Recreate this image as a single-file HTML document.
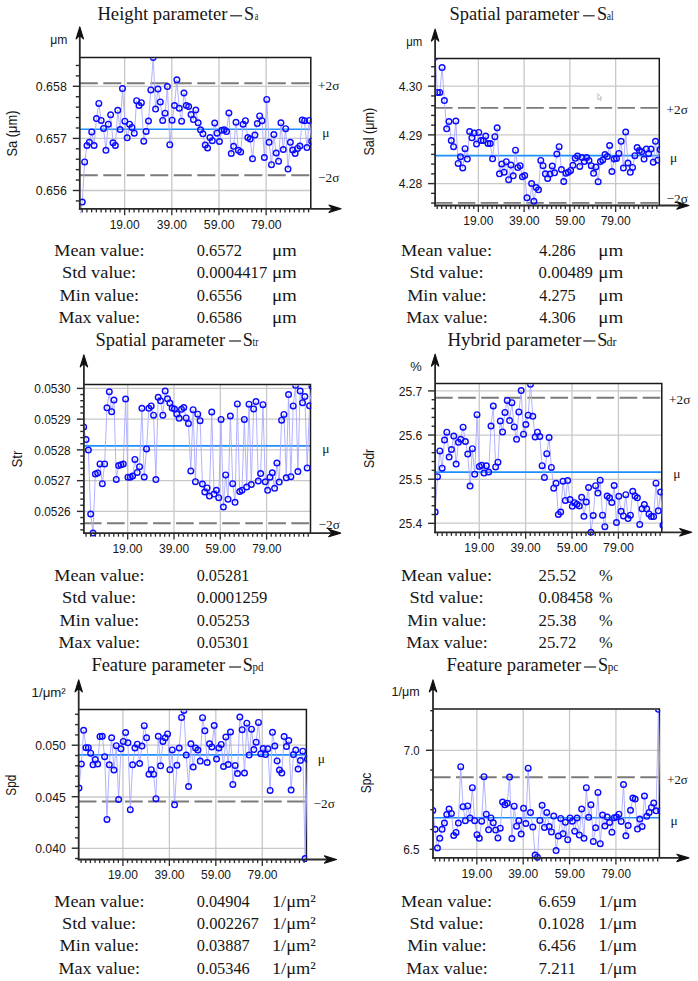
<!DOCTYPE html>
<html><head><meta charset="utf-8"><style>
html,body{margin:0;padding:0;background:#fff;width:698px;height:981px;overflow:hidden}
svg{display:block}
text{fill:#161616}
.sa{font-family:"Liberation Sans",sans-serif}
.se{font-family:"Liberation Serif",serif}
</style></head><body>
<svg width="698" height="981" viewBox="0 0 698 981">
<rect width="698" height="981" fill="#fff"/>
<clipPath id="c0"><rect x="79.8" y="58.3" width="231.8" height="155.3"/></clipPath>
<line x1="124.65" y1="58" x2="124.65" y2="208.8" stroke="#c8c8c8" stroke-width="1.3"/>
<line x1="171.81" y1="58" x2="171.81" y2="208.8" stroke="#c8c8c8" stroke-width="1.3"/>
<line x1="218.97" y1="58" x2="218.97" y2="208.8" stroke="#c8c8c8" stroke-width="1.3"/>
<line x1="266.13" y1="58" x2="266.13" y2="208.8" stroke="#c8c8c8" stroke-width="1.3"/>
<line x1="79.8" y1="86.3" x2="310.8" y2="86.3" stroke="#c8c8c8" stroke-width="1.3"/>
<line x1="79.8" y1="138.4" x2="310.8" y2="138.4" stroke="#c8c8c8" stroke-width="1.3"/>
<line x1="79.8" y1="190.5" x2="310.8" y2="190.5" stroke="#c8c8c8" stroke-width="1.3"/>
<line x1="79.8" y1="83.2" x2="309.6" y2="83.2" stroke="#7b7b7b" stroke-width="1.9" stroke-dasharray="17.98 5.52"/>
<line x1="79.8" y1="175.3" x2="309.6" y2="175.3" stroke="#7b7b7b" stroke-width="1.9" stroke-dasharray="17.98 5.52"/>
<line x1="79.8" y1="129.3" x2="310.8" y2="129.3" stroke="#1e8fff" stroke-width="1.6"/>
<path d="M79.8 57.5 H310.8 V208.8" fill="none" stroke="#1a1a1a" stroke-width="1.5"/>
<g clip-path="url(#c0)">
<path d="M79.9 218 L82.27 202.1 L84.63 161.9 L87 145.5 L89.36 142.3 L91.73 131.9 L94.09 145.5 L96.46 118.6 L98.82 103.4 L101.19 120.4 L103.55 128.4 L105.92 150.3 L108.28 124.2 L110.65 114.8 L113.01 142.8 L115.38 145.5 L117.74 110.3 L120.11 129.5 L122.47 88.6 L124.84 121.2 L127.2 137.8 L129.56 124.2 L131.93 127.4 L134.3 133.2 L136.66 100.7 L139.03 105.5 L141.39 102.7 L143.75 141.2 L146.12 131.4 L148.49 121 L150.85 89.9 L153.22 57.4 L155.58 109.1 L157.94 89.1 L160.31 101.9 L162.68 120.4 L165.04 113.2 L167.41 86.6 L169.77 144.7 L172.14 120.2 L174.5 105.5 L176.87 79.8 L179.23 108.3 L181.6 121.2 L183.96 93 L186.33 105.5 L188.69 106.5 L191.06 114.6 L193.42 119.6 L195.79 110 L198.15 122.8 L200.52 129.8 L202.88 133.8 L205.25 145 L207.61 147.9 L209.98 137.5 L212.34 140.7 L214.71 123.1 L217.07 133.2 L219.44 141.5 L221.8 130.3 L224.17 129.8 L226.53 131.6 L228.9 113 L231.26 153.5 L233.63 146.3 L235.99 122.3 L238.36 150.3 L240.72 151.9 L243.09 124.2 L245.45 120.7 L247.82 137.5 L250.18 139.1 L252.55 158.8 L254.91 135.1 L257.28 123.6 L259.64 115.9 L262 120.7 L264.37 157.5 L266.74 99.4 L269.1 142.3 L271.47 164.7 L273.83 134.6 L276.2 153 L278.56 161.2 L280.93 122.8 L283.29 149.5 L285.66 128.7 L288.02 169.1 L290.38 142.3 L292.75 150 L295.12 153.5 L297.48 148.4 L299.85 146 L302.21 119.9 L304.58 120.7 L306.94 147.6 L309.31 120.4 L311.67 141.2" fill="none" stroke="#a9a9ff" stroke-width="0.9" stroke-linejoin="round"/>
<circle cx="79.9" cy="218" r="2.8" fill="none" stroke="#0b0bff" stroke-width="1.4"/>
<circle cx="82.27" cy="202.1" r="2.8" fill="none" stroke="#0b0bff" stroke-width="1.4"/>
<circle cx="84.63" cy="161.9" r="2.8" fill="none" stroke="#0b0bff" stroke-width="1.4"/>
<circle cx="87" cy="145.5" r="2.8" fill="none" stroke="#0b0bff" stroke-width="1.4"/>
<circle cx="89.36" cy="142.3" r="2.8" fill="none" stroke="#0b0bff" stroke-width="1.4"/>
<circle cx="91.73" cy="131.9" r="2.8" fill="none" stroke="#0b0bff" stroke-width="1.4"/>
<circle cx="94.09" cy="145.5" r="2.8" fill="none" stroke="#0b0bff" stroke-width="1.4"/>
<circle cx="96.46" cy="118.6" r="2.8" fill="none" stroke="#0b0bff" stroke-width="1.4"/>
<circle cx="98.82" cy="103.4" r="2.8" fill="none" stroke="#0b0bff" stroke-width="1.4"/>
<circle cx="101.19" cy="120.4" r="2.8" fill="none" stroke="#0b0bff" stroke-width="1.4"/>
<circle cx="103.55" cy="128.4" r="2.8" fill="none" stroke="#0b0bff" stroke-width="1.4"/>
<circle cx="105.92" cy="150.3" r="2.8" fill="none" stroke="#0b0bff" stroke-width="1.4"/>
<circle cx="108.28" cy="124.2" r="2.8" fill="none" stroke="#0b0bff" stroke-width="1.4"/>
<circle cx="110.65" cy="114.8" r="2.8" fill="none" stroke="#0b0bff" stroke-width="1.4"/>
<circle cx="113.01" cy="142.8" r="2.8" fill="none" stroke="#0b0bff" stroke-width="1.4"/>
<circle cx="115.38" cy="145.5" r="2.8" fill="none" stroke="#0b0bff" stroke-width="1.4"/>
<circle cx="117.74" cy="110.3" r="2.8" fill="none" stroke="#0b0bff" stroke-width="1.4"/>
<circle cx="120.11" cy="129.5" r="2.8" fill="none" stroke="#0b0bff" stroke-width="1.4"/>
<circle cx="122.47" cy="88.6" r="2.8" fill="none" stroke="#0b0bff" stroke-width="1.4"/>
<circle cx="124.84" cy="121.2" r="2.8" fill="none" stroke="#0b0bff" stroke-width="1.4"/>
<circle cx="127.2" cy="137.8" r="2.8" fill="none" stroke="#0b0bff" stroke-width="1.4"/>
<circle cx="129.56" cy="124.2" r="2.8" fill="none" stroke="#0b0bff" stroke-width="1.4"/>
<circle cx="131.93" cy="127.4" r="2.8" fill="none" stroke="#0b0bff" stroke-width="1.4"/>
<circle cx="134.3" cy="133.2" r="2.8" fill="none" stroke="#0b0bff" stroke-width="1.4"/>
<circle cx="136.66" cy="100.7" r="2.8" fill="none" stroke="#0b0bff" stroke-width="1.4"/>
<circle cx="139.03" cy="105.5" r="2.8" fill="none" stroke="#0b0bff" stroke-width="1.4"/>
<circle cx="141.39" cy="102.7" r="2.8" fill="none" stroke="#0b0bff" stroke-width="1.4"/>
<circle cx="143.75" cy="141.2" r="2.8" fill="none" stroke="#0b0bff" stroke-width="1.4"/>
<circle cx="146.12" cy="131.4" r="2.8" fill="none" stroke="#0b0bff" stroke-width="1.4"/>
<circle cx="148.49" cy="121" r="2.8" fill="none" stroke="#0b0bff" stroke-width="1.4"/>
<circle cx="150.85" cy="89.9" r="2.8" fill="none" stroke="#0b0bff" stroke-width="1.4"/>
<circle cx="153.22" cy="57.4" r="2.8" fill="none" stroke="#0b0bff" stroke-width="1.4"/>
<circle cx="155.58" cy="109.1" r="2.8" fill="none" stroke="#0b0bff" stroke-width="1.4"/>
<circle cx="157.94" cy="89.1" r="2.8" fill="none" stroke="#0b0bff" stroke-width="1.4"/>
<circle cx="160.31" cy="101.9" r="2.8" fill="none" stroke="#0b0bff" stroke-width="1.4"/>
<circle cx="162.68" cy="120.4" r="2.8" fill="none" stroke="#0b0bff" stroke-width="1.4"/>
<circle cx="165.04" cy="113.2" r="2.8" fill="none" stroke="#0b0bff" stroke-width="1.4"/>
<circle cx="167.41" cy="86.6" r="2.8" fill="none" stroke="#0b0bff" stroke-width="1.4"/>
<circle cx="169.77" cy="144.7" r="2.8" fill="none" stroke="#0b0bff" stroke-width="1.4"/>
<circle cx="172.14" cy="120.2" r="2.8" fill="none" stroke="#0b0bff" stroke-width="1.4"/>
<circle cx="174.5" cy="105.5" r="2.8" fill="none" stroke="#0b0bff" stroke-width="1.4"/>
<circle cx="176.87" cy="79.8" r="2.8" fill="none" stroke="#0b0bff" stroke-width="1.4"/>
<circle cx="179.23" cy="108.3" r="2.8" fill="none" stroke="#0b0bff" stroke-width="1.4"/>
<circle cx="181.6" cy="121.2" r="2.8" fill="none" stroke="#0b0bff" stroke-width="1.4"/>
<circle cx="183.96" cy="93" r="2.8" fill="none" stroke="#0b0bff" stroke-width="1.4"/>
<circle cx="186.33" cy="105.5" r="2.8" fill="none" stroke="#0b0bff" stroke-width="1.4"/>
<circle cx="188.69" cy="106.5" r="2.8" fill="none" stroke="#0b0bff" stroke-width="1.4"/>
<circle cx="191.06" cy="114.6" r="2.8" fill="none" stroke="#0b0bff" stroke-width="1.4"/>
<circle cx="193.42" cy="119.6" r="2.8" fill="none" stroke="#0b0bff" stroke-width="1.4"/>
<circle cx="195.79" cy="110" r="2.8" fill="none" stroke="#0b0bff" stroke-width="1.4"/>
<circle cx="198.15" cy="122.8" r="2.8" fill="none" stroke="#0b0bff" stroke-width="1.4"/>
<circle cx="200.52" cy="129.8" r="2.8" fill="none" stroke="#0b0bff" stroke-width="1.4"/>
<circle cx="202.88" cy="133.8" r="2.8" fill="none" stroke="#0b0bff" stroke-width="1.4"/>
<circle cx="205.25" cy="145" r="2.8" fill="none" stroke="#0b0bff" stroke-width="1.4"/>
<circle cx="207.61" cy="147.9" r="2.8" fill="none" stroke="#0b0bff" stroke-width="1.4"/>
<circle cx="209.98" cy="137.5" r="2.8" fill="none" stroke="#0b0bff" stroke-width="1.4"/>
<circle cx="212.34" cy="140.7" r="2.8" fill="none" stroke="#0b0bff" stroke-width="1.4"/>
<circle cx="214.71" cy="123.1" r="2.8" fill="none" stroke="#0b0bff" stroke-width="1.4"/>
<circle cx="217.07" cy="133.2" r="2.8" fill="none" stroke="#0b0bff" stroke-width="1.4"/>
<circle cx="219.44" cy="141.5" r="2.8" fill="none" stroke="#0b0bff" stroke-width="1.4"/>
<circle cx="221.8" cy="130.3" r="2.8" fill="none" stroke="#0b0bff" stroke-width="1.4"/>
<circle cx="224.17" cy="129.8" r="2.8" fill="none" stroke="#0b0bff" stroke-width="1.4"/>
<circle cx="226.53" cy="131.6" r="2.8" fill="none" stroke="#0b0bff" stroke-width="1.4"/>
<circle cx="228.9" cy="113" r="2.8" fill="none" stroke="#0b0bff" stroke-width="1.4"/>
<circle cx="231.26" cy="153.5" r="2.8" fill="none" stroke="#0b0bff" stroke-width="1.4"/>
<circle cx="233.63" cy="146.3" r="2.8" fill="none" stroke="#0b0bff" stroke-width="1.4"/>
<circle cx="235.99" cy="122.3" r="2.8" fill="none" stroke="#0b0bff" stroke-width="1.4"/>
<circle cx="238.36" cy="150.3" r="2.8" fill="none" stroke="#0b0bff" stroke-width="1.4"/>
<circle cx="240.72" cy="151.9" r="2.8" fill="none" stroke="#0b0bff" stroke-width="1.4"/>
<circle cx="243.09" cy="124.2" r="2.8" fill="none" stroke="#0b0bff" stroke-width="1.4"/>
<circle cx="245.45" cy="120.7" r="2.8" fill="none" stroke="#0b0bff" stroke-width="1.4"/>
<circle cx="247.82" cy="137.5" r="2.8" fill="none" stroke="#0b0bff" stroke-width="1.4"/>
<circle cx="250.18" cy="139.1" r="2.8" fill="none" stroke="#0b0bff" stroke-width="1.4"/>
<circle cx="252.55" cy="158.8" r="2.8" fill="none" stroke="#0b0bff" stroke-width="1.4"/>
<circle cx="254.91" cy="135.1" r="2.8" fill="none" stroke="#0b0bff" stroke-width="1.4"/>
<circle cx="257.28" cy="123.6" r="2.8" fill="none" stroke="#0b0bff" stroke-width="1.4"/>
<circle cx="259.64" cy="115.9" r="2.8" fill="none" stroke="#0b0bff" stroke-width="1.4"/>
<circle cx="262" cy="120.7" r="2.8" fill="none" stroke="#0b0bff" stroke-width="1.4"/>
<circle cx="264.37" cy="157.5" r="2.8" fill="none" stroke="#0b0bff" stroke-width="1.4"/>
<circle cx="266.74" cy="99.4" r="2.8" fill="none" stroke="#0b0bff" stroke-width="1.4"/>
<circle cx="269.1" cy="142.3" r="2.8" fill="none" stroke="#0b0bff" stroke-width="1.4"/>
<circle cx="271.47" cy="164.7" r="2.8" fill="none" stroke="#0b0bff" stroke-width="1.4"/>
<circle cx="273.83" cy="134.6" r="2.8" fill="none" stroke="#0b0bff" stroke-width="1.4"/>
<circle cx="276.2" cy="153" r="2.8" fill="none" stroke="#0b0bff" stroke-width="1.4"/>
<circle cx="278.56" cy="161.2" r="2.8" fill="none" stroke="#0b0bff" stroke-width="1.4"/>
<circle cx="280.93" cy="122.8" r="2.8" fill="none" stroke="#0b0bff" stroke-width="1.4"/>
<circle cx="283.29" cy="149.5" r="2.8" fill="none" stroke="#0b0bff" stroke-width="1.4"/>
<circle cx="285.66" cy="128.7" r="2.8" fill="none" stroke="#0b0bff" stroke-width="1.4"/>
<circle cx="288.02" cy="169.1" r="2.8" fill="none" stroke="#0b0bff" stroke-width="1.4"/>
<circle cx="290.38" cy="142.3" r="2.8" fill="none" stroke="#0b0bff" stroke-width="1.4"/>
<circle cx="292.75" cy="150" r="2.8" fill="none" stroke="#0b0bff" stroke-width="1.4"/>
<circle cx="295.12" cy="153.5" r="2.8" fill="none" stroke="#0b0bff" stroke-width="1.4"/>
<circle cx="297.48" cy="148.4" r="2.8" fill="none" stroke="#0b0bff" stroke-width="1.4"/>
<circle cx="299.85" cy="146" r="2.8" fill="none" stroke="#0b0bff" stroke-width="1.4"/>
<circle cx="302.21" cy="119.9" r="2.8" fill="none" stroke="#0b0bff" stroke-width="1.4"/>
<circle cx="304.58" cy="120.7" r="2.8" fill="none" stroke="#0b0bff" stroke-width="1.4"/>
<circle cx="306.94" cy="147.6" r="2.8" fill="none" stroke="#0b0bff" stroke-width="1.4"/>
<circle cx="309.31" cy="120.4" r="2.8" fill="none" stroke="#0b0bff" stroke-width="1.4"/>
<circle cx="311.67" cy="141.2" r="2.8" fill="none" stroke="#0b0bff" stroke-width="1.4"/>
</g>
<line x1="79.8" y1="209.7" x2="79.8" y2="32.3" stroke="#2a2a2a" stroke-width="1.8"/>
<line x1="78.9" y1="208.8" x2="335.6" y2="208.8" stroke="#2a2a2a" stroke-width="1.8"/>
<path d="M79.8 26.8 L83.5 38.9 L79.8 35.3 L76.1 38.9Z" fill="#111" stroke="#111" stroke-width="1.1" stroke-linejoin="round"/>
<path d="M341.1 208.8 L329 212.5 L332.6 208.8 L329 205.1Z" fill="#111" stroke="#111" stroke-width="1.1" stroke-linejoin="round"/>
<line x1="75.8" y1="65.46" x2="79.8" y2="65.46" stroke="#2a2a2a" stroke-width="1.4"/>
<line x1="75.8" y1="75.88" x2="79.8" y2="75.88" stroke="#2a2a2a" stroke-width="1.4"/>
<line x1="72.8" y1="86.3" x2="79.8" y2="86.3" stroke="#2a2a2a" stroke-width="1.4"/>
<line x1="75.8" y1="96.72" x2="79.8" y2="96.72" stroke="#2a2a2a" stroke-width="1.4"/>
<line x1="75.8" y1="107.14" x2="79.8" y2="107.14" stroke="#2a2a2a" stroke-width="1.4"/>
<line x1="75.8" y1="117.56" x2="79.8" y2="117.56" stroke="#2a2a2a" stroke-width="1.4"/>
<line x1="75.8" y1="127.98" x2="79.8" y2="127.98" stroke="#2a2a2a" stroke-width="1.4"/>
<line x1="72.8" y1="138.4" x2="79.8" y2="138.4" stroke="#2a2a2a" stroke-width="1.4"/>
<line x1="75.8" y1="148.82" x2="79.8" y2="148.82" stroke="#2a2a2a" stroke-width="1.4"/>
<line x1="75.8" y1="159.24" x2="79.8" y2="159.24" stroke="#2a2a2a" stroke-width="1.4"/>
<line x1="75.8" y1="169.66" x2="79.8" y2="169.66" stroke="#2a2a2a" stroke-width="1.4"/>
<line x1="75.8" y1="180.08" x2="79.8" y2="180.08" stroke="#2a2a2a" stroke-width="1.4"/>
<line x1="72.8" y1="190.5" x2="79.8" y2="190.5" stroke="#2a2a2a" stroke-width="1.4"/>
<line x1="75.8" y1="200.92" x2="79.8" y2="200.92" stroke="#2a2a2a" stroke-width="1.4"/>
<text class="sa" x="35.81" y="91" font-size="13.3" textLength="30.98" lengthAdjust="spacingAndGlyphs">0.658</text>
<text class="sa" x="35.81" y="143.1" font-size="13.3" textLength="30.98" lengthAdjust="spacingAndGlyphs">0.657</text>
<text class="sa" x="35.81" y="195.2" font-size="13.3" textLength="30.98" lengthAdjust="spacingAndGlyphs">0.656</text>
<line x1="82.21" y1="208.8" x2="82.21" y2="212.4" stroke="#2a2a2a" stroke-width="1.3"/>
<line x1="86.92" y1="208.8" x2="86.92" y2="212.4" stroke="#2a2a2a" stroke-width="1.3"/>
<line x1="91.64" y1="208.8" x2="91.64" y2="212.4" stroke="#2a2a2a" stroke-width="1.3"/>
<line x1="96.36" y1="208.8" x2="96.36" y2="212.4" stroke="#2a2a2a" stroke-width="1.3"/>
<line x1="101.07" y1="208.8" x2="101.07" y2="212.4" stroke="#2a2a2a" stroke-width="1.3"/>
<line x1="105.79" y1="208.8" x2="105.79" y2="212.4" stroke="#2a2a2a" stroke-width="1.3"/>
<line x1="110.5" y1="208.8" x2="110.5" y2="212.4" stroke="#2a2a2a" stroke-width="1.3"/>
<line x1="115.22" y1="208.8" x2="115.22" y2="212.4" stroke="#2a2a2a" stroke-width="1.3"/>
<line x1="119.94" y1="208.8" x2="119.94" y2="212.4" stroke="#2a2a2a" stroke-width="1.3"/>
<line x1="124.65" y1="208.8" x2="124.65" y2="215.3" stroke="#2a2a2a" stroke-width="1.3"/>
<line x1="129.37" y1="208.8" x2="129.37" y2="212.4" stroke="#2a2a2a" stroke-width="1.3"/>
<line x1="134.08" y1="208.8" x2="134.08" y2="212.4" stroke="#2a2a2a" stroke-width="1.3"/>
<line x1="138.8" y1="208.8" x2="138.8" y2="212.4" stroke="#2a2a2a" stroke-width="1.3"/>
<line x1="143.52" y1="208.8" x2="143.52" y2="212.4" stroke="#2a2a2a" stroke-width="1.3"/>
<line x1="148.23" y1="208.8" x2="148.23" y2="212.4" stroke="#2a2a2a" stroke-width="1.3"/>
<line x1="152.95" y1="208.8" x2="152.95" y2="212.4" stroke="#2a2a2a" stroke-width="1.3"/>
<line x1="157.66" y1="208.8" x2="157.66" y2="212.4" stroke="#2a2a2a" stroke-width="1.3"/>
<line x1="162.38" y1="208.8" x2="162.38" y2="212.4" stroke="#2a2a2a" stroke-width="1.3"/>
<line x1="167.1" y1="208.8" x2="167.1" y2="212.4" stroke="#2a2a2a" stroke-width="1.3"/>
<line x1="171.81" y1="208.8" x2="171.81" y2="215.3" stroke="#2a2a2a" stroke-width="1.3"/>
<line x1="176.53" y1="208.8" x2="176.53" y2="212.4" stroke="#2a2a2a" stroke-width="1.3"/>
<line x1="181.24" y1="208.8" x2="181.24" y2="212.4" stroke="#2a2a2a" stroke-width="1.3"/>
<line x1="185.96" y1="208.8" x2="185.96" y2="212.4" stroke="#2a2a2a" stroke-width="1.3"/>
<line x1="190.68" y1="208.8" x2="190.68" y2="212.4" stroke="#2a2a2a" stroke-width="1.3"/>
<line x1="195.39" y1="208.8" x2="195.39" y2="212.4" stroke="#2a2a2a" stroke-width="1.3"/>
<line x1="200.11" y1="208.8" x2="200.11" y2="212.4" stroke="#2a2a2a" stroke-width="1.3"/>
<line x1="204.82" y1="208.8" x2="204.82" y2="212.4" stroke="#2a2a2a" stroke-width="1.3"/>
<line x1="209.54" y1="208.8" x2="209.54" y2="212.4" stroke="#2a2a2a" stroke-width="1.3"/>
<line x1="214.26" y1="208.8" x2="214.26" y2="212.4" stroke="#2a2a2a" stroke-width="1.3"/>
<line x1="218.97" y1="208.8" x2="218.97" y2="215.3" stroke="#2a2a2a" stroke-width="1.3"/>
<line x1="223.69" y1="208.8" x2="223.69" y2="212.4" stroke="#2a2a2a" stroke-width="1.3"/>
<line x1="228.4" y1="208.8" x2="228.4" y2="212.4" stroke="#2a2a2a" stroke-width="1.3"/>
<line x1="233.12" y1="208.8" x2="233.12" y2="212.4" stroke="#2a2a2a" stroke-width="1.3"/>
<line x1="237.84" y1="208.8" x2="237.84" y2="212.4" stroke="#2a2a2a" stroke-width="1.3"/>
<line x1="242.55" y1="208.8" x2="242.55" y2="212.4" stroke="#2a2a2a" stroke-width="1.3"/>
<line x1="247.27" y1="208.8" x2="247.27" y2="212.4" stroke="#2a2a2a" stroke-width="1.3"/>
<line x1="251.98" y1="208.8" x2="251.98" y2="212.4" stroke="#2a2a2a" stroke-width="1.3"/>
<line x1="256.7" y1="208.8" x2="256.7" y2="212.4" stroke="#2a2a2a" stroke-width="1.3"/>
<line x1="261.42" y1="208.8" x2="261.42" y2="212.4" stroke="#2a2a2a" stroke-width="1.3"/>
<line x1="266.13" y1="208.8" x2="266.13" y2="215.3" stroke="#2a2a2a" stroke-width="1.3"/>
<line x1="270.85" y1="208.8" x2="270.85" y2="212.4" stroke="#2a2a2a" stroke-width="1.3"/>
<line x1="275.56" y1="208.8" x2="275.56" y2="212.4" stroke="#2a2a2a" stroke-width="1.3"/>
<line x1="280.28" y1="208.8" x2="280.28" y2="212.4" stroke="#2a2a2a" stroke-width="1.3"/>
<line x1="285" y1="208.8" x2="285" y2="212.4" stroke="#2a2a2a" stroke-width="1.3"/>
<line x1="289.71" y1="208.8" x2="289.71" y2="212.4" stroke="#2a2a2a" stroke-width="1.3"/>
<line x1="294.43" y1="208.8" x2="294.43" y2="212.4" stroke="#2a2a2a" stroke-width="1.3"/>
<line x1="299.14" y1="208.8" x2="299.14" y2="212.4" stroke="#2a2a2a" stroke-width="1.3"/>
<line x1="303.86" y1="208.8" x2="303.86" y2="212.4" stroke="#2a2a2a" stroke-width="1.3"/>
<line x1="308.58" y1="208.8" x2="308.58" y2="212.4" stroke="#2a2a2a" stroke-width="1.3"/>
<text class="sa" x="109.68" y="228.5" font-size="12.2" textLength="30.06" lengthAdjust="spacingAndGlyphs">19.00</text>
<text class="sa" x="156.76" y="228.5" font-size="12.2" textLength="30.06" lengthAdjust="spacingAndGlyphs">39.00</text>
<text class="sa" x="203.83" y="228.5" font-size="12.2" textLength="30.76" lengthAdjust="spacingAndGlyphs">59.00</text>
<text class="sa" x="250.91" y="228.5" font-size="12.2" textLength="30.76" lengthAdjust="spacingAndGlyphs">79.00</text>
<text class="sa" x="50.24" y="43.5" font-size="12.6" textLength="17.14" lengthAdjust="spacingAndGlyphs">μm</text>
<text class="sa" transform="translate(17.1 156.5) rotate(-90)" x="0" y="0" font-size="14" textLength="46" lengthAdjust="spacingAndGlyphs">Sa (μm)</text>
<text class="se" x="318.08" y="90.2" font-size="12.6" textLength="21.26" lengthAdjust="spacingAndGlyphs">+2σ</text>
<text class="se" x="322.2" y="137" font-size="13" textLength="7.26" lengthAdjust="spacingAndGlyphs">μ</text>
<text class="se" x="318.08" y="181.9" font-size="12.6" textLength="21.26" lengthAdjust="spacingAndGlyphs">−2σ</text>
<text class="se" x="97.4" y="20.3" font-size="18.2" textLength="130" lengthAdjust="spacingAndGlyphs">Height parameter</text>
<line x1="230.1" y1="15.8" x2="242.1" y2="15.8" stroke="#1a1a1a" stroke-width="1.15"/>
<text class="se" x="244" y="20.3" font-size="18.2">S</text>
<text class="se" x="254.74" y="20.3" font-size="12.5" textLength="3.56" lengthAdjust="spacingAndGlyphs">a</text>
<clipPath id="c1"><rect x="435.1" y="59.3" width="225" height="151"/></clipPath>
<line x1="478.37" y1="59" x2="478.37" y2="205.5" stroke="#c8c8c8" stroke-width="1.3"/>
<line x1="524.13" y1="59" x2="524.13" y2="205.5" stroke="#c8c8c8" stroke-width="1.3"/>
<line x1="569.89" y1="59" x2="569.89" y2="205.5" stroke="#c8c8c8" stroke-width="1.3"/>
<line x1="615.65" y1="59" x2="615.65" y2="205.5" stroke="#c8c8c8" stroke-width="1.3"/>
<line x1="435.1" y1="86.2" x2="659.3" y2="86.2" stroke="#c8c8c8" stroke-width="1.3"/>
<line x1="435.1" y1="134.9" x2="659.3" y2="134.9" stroke="#c8c8c8" stroke-width="1.3"/>
<line x1="435.1" y1="183.6" x2="659.3" y2="183.6" stroke="#c8c8c8" stroke-width="1.3"/>
<line x1="435.1" y1="107.9" x2="658.1" y2="107.9" stroke="#7b7b7b" stroke-width="1.9" stroke-dasharray="17.45 5.36"/>
<line x1="435.1" y1="202.9" x2="658.1" y2="202.9" stroke="#7b7b7b" stroke-width="1.9" stroke-dasharray="17.45 5.36"/>
<line x1="435.1" y1="155.6" x2="659.3" y2="155.6" stroke="#1e8fff" stroke-width="1.6"/>
<path d="M435.1 58.5 H659.3 V205.5" fill="none" stroke="#1a1a1a" stroke-width="1.5"/>
<g clip-path="url(#c1)">
<path d="M435.2 57 L437.5 92.4 L439.79 92.4 L442.08 67.6 L444.38 100.6 L446.68 128.8 L448.97 121.6 L451.26 140.5 L453.56 146.7 L455.86 121.1 L458.15 163.4 L460.44 156.7 L462.74 167.9 L465.03 148.7 L467.33 159.1 L469.62 131.5 L471.92 137.8 L474.21 133 L476.51 144 L478.81 132.4 L481.1 140.5 L483.39 140.5 L485.69 136.1 L487.99 143.5 L490.28 143.5 L492.57 158.8 L494.87 136.7 L497.16 127.8 L499.46 173.8 L501.75 164 L504.05 172.2 L506.34 161.7 L508.64 179.7 L510.94 165 L513.23 175.8 L515.52 150.2 L517.82 167.6 L520.12 165.7 L522.41 176.8 L524.7 175.6 L527 197.8 L529.29 216 L531.59 183.5 L533.88 201.3 L536.18 187.5 L538.48 189.8 L540.77 160.4 L543.06 165.7 L545.36 173.8 L547.65 178.4 L549.95 174 L552.25 166 L554.54 172.8 L556.84 154.1 L559.13 146.7 L561.42 169.5 L563.72 181.5 L566.01 173.3 L568.31 172.2 L570.61 170.4 L572.9 165.3 L575.19 158.3 L577.49 156 L579.78 166.4 L582.08 157.5 L584.38 161.4 L586.67 157.5 L588.96 160.6 L591.26 165.7 L593.55 173.3 L595.85 167 L598.14 181.7 L600.44 161.5 L602.74 159.9 L605.03 154.5 L607.33 156.5 L609.62 145.5 L611.91 171.5 L614.21 159.1 L616.5 158.4 L618.8 153.4 L621.1 141.3 L623.39 168 L625.68 132 L627.98 163 L630.27 172.3 L632.57 167.4 L634.87 155.7 L637.16 147.5 L639.45 150.6 L641.75 151.8 L644.04 159.1 L646.34 149.1 L648.63 153.7 L650.93 149.1 L653.23 162.2 L655.52 141.3 L657.81 160.2 L660.11 149.5" fill="none" stroke="#a9a9ff" stroke-width="0.9" stroke-linejoin="round"/>
<circle cx="435.2" cy="57" r="2.8" fill="none" stroke="#0b0bff" stroke-width="1.4"/>
<circle cx="437.5" cy="92.4" r="2.8" fill="none" stroke="#0b0bff" stroke-width="1.4"/>
<circle cx="439.79" cy="92.4" r="2.8" fill="none" stroke="#0b0bff" stroke-width="1.4"/>
<circle cx="442.08" cy="67.6" r="2.8" fill="none" stroke="#0b0bff" stroke-width="1.4"/>
<circle cx="444.38" cy="100.6" r="2.8" fill="none" stroke="#0b0bff" stroke-width="1.4"/>
<circle cx="446.68" cy="128.8" r="2.8" fill="none" stroke="#0b0bff" stroke-width="1.4"/>
<circle cx="448.97" cy="121.6" r="2.8" fill="none" stroke="#0b0bff" stroke-width="1.4"/>
<circle cx="451.26" cy="140.5" r="2.8" fill="none" stroke="#0b0bff" stroke-width="1.4"/>
<circle cx="453.56" cy="146.7" r="2.8" fill="none" stroke="#0b0bff" stroke-width="1.4"/>
<circle cx="455.86" cy="121.1" r="2.8" fill="none" stroke="#0b0bff" stroke-width="1.4"/>
<circle cx="458.15" cy="163.4" r="2.8" fill="none" stroke="#0b0bff" stroke-width="1.4"/>
<circle cx="460.44" cy="156.7" r="2.8" fill="none" stroke="#0b0bff" stroke-width="1.4"/>
<circle cx="462.74" cy="167.9" r="2.8" fill="none" stroke="#0b0bff" stroke-width="1.4"/>
<circle cx="465.03" cy="148.7" r="2.8" fill="none" stroke="#0b0bff" stroke-width="1.4"/>
<circle cx="467.33" cy="159.1" r="2.8" fill="none" stroke="#0b0bff" stroke-width="1.4"/>
<circle cx="469.62" cy="131.5" r="2.8" fill="none" stroke="#0b0bff" stroke-width="1.4"/>
<circle cx="471.92" cy="137.8" r="2.8" fill="none" stroke="#0b0bff" stroke-width="1.4"/>
<circle cx="474.21" cy="133" r="2.8" fill="none" stroke="#0b0bff" stroke-width="1.4"/>
<circle cx="476.51" cy="144" r="2.8" fill="none" stroke="#0b0bff" stroke-width="1.4"/>
<circle cx="478.81" cy="132.4" r="2.8" fill="none" stroke="#0b0bff" stroke-width="1.4"/>
<circle cx="481.1" cy="140.5" r="2.8" fill="none" stroke="#0b0bff" stroke-width="1.4"/>
<circle cx="483.39" cy="140.5" r="2.8" fill="none" stroke="#0b0bff" stroke-width="1.4"/>
<circle cx="485.69" cy="136.1" r="2.8" fill="none" stroke="#0b0bff" stroke-width="1.4"/>
<circle cx="487.99" cy="143.5" r="2.8" fill="none" stroke="#0b0bff" stroke-width="1.4"/>
<circle cx="490.28" cy="143.5" r="2.8" fill="none" stroke="#0b0bff" stroke-width="1.4"/>
<circle cx="492.57" cy="158.8" r="2.8" fill="none" stroke="#0b0bff" stroke-width="1.4"/>
<circle cx="494.87" cy="136.7" r="2.8" fill="none" stroke="#0b0bff" stroke-width="1.4"/>
<circle cx="497.16" cy="127.8" r="2.8" fill="none" stroke="#0b0bff" stroke-width="1.4"/>
<circle cx="499.46" cy="173.8" r="2.8" fill="none" stroke="#0b0bff" stroke-width="1.4"/>
<circle cx="501.75" cy="164" r="2.8" fill="none" stroke="#0b0bff" stroke-width="1.4"/>
<circle cx="504.05" cy="172.2" r="2.8" fill="none" stroke="#0b0bff" stroke-width="1.4"/>
<circle cx="506.34" cy="161.7" r="2.8" fill="none" stroke="#0b0bff" stroke-width="1.4"/>
<circle cx="508.64" cy="179.7" r="2.8" fill="none" stroke="#0b0bff" stroke-width="1.4"/>
<circle cx="510.94" cy="165" r="2.8" fill="none" stroke="#0b0bff" stroke-width="1.4"/>
<circle cx="513.23" cy="175.8" r="2.8" fill="none" stroke="#0b0bff" stroke-width="1.4"/>
<circle cx="515.52" cy="150.2" r="2.8" fill="none" stroke="#0b0bff" stroke-width="1.4"/>
<circle cx="517.82" cy="167.6" r="2.8" fill="none" stroke="#0b0bff" stroke-width="1.4"/>
<circle cx="520.12" cy="165.7" r="2.8" fill="none" stroke="#0b0bff" stroke-width="1.4"/>
<circle cx="522.41" cy="176.8" r="2.8" fill="none" stroke="#0b0bff" stroke-width="1.4"/>
<circle cx="524.7" cy="175.6" r="2.8" fill="none" stroke="#0b0bff" stroke-width="1.4"/>
<circle cx="527" cy="197.8" r="2.8" fill="none" stroke="#0b0bff" stroke-width="1.4"/>
<circle cx="529.29" cy="216" r="2.8" fill="none" stroke="#0b0bff" stroke-width="1.4"/>
<circle cx="531.59" cy="183.5" r="2.8" fill="none" stroke="#0b0bff" stroke-width="1.4"/>
<circle cx="533.88" cy="201.3" r="2.8" fill="none" stroke="#0b0bff" stroke-width="1.4"/>
<circle cx="536.18" cy="187.5" r="2.8" fill="none" stroke="#0b0bff" stroke-width="1.4"/>
<circle cx="538.48" cy="189.8" r="2.8" fill="none" stroke="#0b0bff" stroke-width="1.4"/>
<circle cx="540.77" cy="160.4" r="2.8" fill="none" stroke="#0b0bff" stroke-width="1.4"/>
<circle cx="543.06" cy="165.7" r="2.8" fill="none" stroke="#0b0bff" stroke-width="1.4"/>
<circle cx="545.36" cy="173.8" r="2.8" fill="none" stroke="#0b0bff" stroke-width="1.4"/>
<circle cx="547.65" cy="178.4" r="2.8" fill="none" stroke="#0b0bff" stroke-width="1.4"/>
<circle cx="549.95" cy="174" r="2.8" fill="none" stroke="#0b0bff" stroke-width="1.4"/>
<circle cx="552.25" cy="166" r="2.8" fill="none" stroke="#0b0bff" stroke-width="1.4"/>
<circle cx="554.54" cy="172.8" r="2.8" fill="none" stroke="#0b0bff" stroke-width="1.4"/>
<circle cx="556.84" cy="154.1" r="2.8" fill="none" stroke="#0b0bff" stroke-width="1.4"/>
<circle cx="559.13" cy="146.7" r="2.8" fill="none" stroke="#0b0bff" stroke-width="1.4"/>
<circle cx="561.42" cy="169.5" r="2.8" fill="none" stroke="#0b0bff" stroke-width="1.4"/>
<circle cx="563.72" cy="181.5" r="2.8" fill="none" stroke="#0b0bff" stroke-width="1.4"/>
<circle cx="566.01" cy="173.3" r="2.8" fill="none" stroke="#0b0bff" stroke-width="1.4"/>
<circle cx="568.31" cy="172.2" r="2.8" fill="none" stroke="#0b0bff" stroke-width="1.4"/>
<circle cx="570.61" cy="170.4" r="2.8" fill="none" stroke="#0b0bff" stroke-width="1.4"/>
<circle cx="572.9" cy="165.3" r="2.8" fill="none" stroke="#0b0bff" stroke-width="1.4"/>
<circle cx="575.19" cy="158.3" r="2.8" fill="none" stroke="#0b0bff" stroke-width="1.4"/>
<circle cx="577.49" cy="156" r="2.8" fill="none" stroke="#0b0bff" stroke-width="1.4"/>
<circle cx="579.78" cy="166.4" r="2.8" fill="none" stroke="#0b0bff" stroke-width="1.4"/>
<circle cx="582.08" cy="157.5" r="2.8" fill="none" stroke="#0b0bff" stroke-width="1.4"/>
<circle cx="584.38" cy="161.4" r="2.8" fill="none" stroke="#0b0bff" stroke-width="1.4"/>
<circle cx="586.67" cy="157.5" r="2.8" fill="none" stroke="#0b0bff" stroke-width="1.4"/>
<circle cx="588.96" cy="160.6" r="2.8" fill="none" stroke="#0b0bff" stroke-width="1.4"/>
<circle cx="591.26" cy="165.7" r="2.8" fill="none" stroke="#0b0bff" stroke-width="1.4"/>
<circle cx="593.55" cy="173.3" r="2.8" fill="none" stroke="#0b0bff" stroke-width="1.4"/>
<circle cx="595.85" cy="167" r="2.8" fill="none" stroke="#0b0bff" stroke-width="1.4"/>
<circle cx="598.14" cy="181.7" r="2.8" fill="none" stroke="#0b0bff" stroke-width="1.4"/>
<circle cx="600.44" cy="161.5" r="2.8" fill="none" stroke="#0b0bff" stroke-width="1.4"/>
<circle cx="602.74" cy="159.9" r="2.8" fill="none" stroke="#0b0bff" stroke-width="1.4"/>
<circle cx="605.03" cy="154.5" r="2.8" fill="none" stroke="#0b0bff" stroke-width="1.4"/>
<circle cx="607.33" cy="156.5" r="2.8" fill="none" stroke="#0b0bff" stroke-width="1.4"/>
<circle cx="609.62" cy="145.5" r="2.8" fill="none" stroke="#0b0bff" stroke-width="1.4"/>
<circle cx="611.91" cy="171.5" r="2.8" fill="none" stroke="#0b0bff" stroke-width="1.4"/>
<circle cx="614.21" cy="159.1" r="2.8" fill="none" stroke="#0b0bff" stroke-width="1.4"/>
<circle cx="616.5" cy="158.4" r="2.8" fill="none" stroke="#0b0bff" stroke-width="1.4"/>
<circle cx="618.8" cy="153.4" r="2.8" fill="none" stroke="#0b0bff" stroke-width="1.4"/>
<circle cx="621.1" cy="141.3" r="2.8" fill="none" stroke="#0b0bff" stroke-width="1.4"/>
<circle cx="623.39" cy="168" r="2.8" fill="none" stroke="#0b0bff" stroke-width="1.4"/>
<circle cx="625.68" cy="132" r="2.8" fill="none" stroke="#0b0bff" stroke-width="1.4"/>
<circle cx="627.98" cy="163" r="2.8" fill="none" stroke="#0b0bff" stroke-width="1.4"/>
<circle cx="630.27" cy="172.3" r="2.8" fill="none" stroke="#0b0bff" stroke-width="1.4"/>
<circle cx="632.57" cy="167.4" r="2.8" fill="none" stroke="#0b0bff" stroke-width="1.4"/>
<circle cx="634.87" cy="155.7" r="2.8" fill="none" stroke="#0b0bff" stroke-width="1.4"/>
<circle cx="637.16" cy="147.5" r="2.8" fill="none" stroke="#0b0bff" stroke-width="1.4"/>
<circle cx="639.45" cy="150.6" r="2.8" fill="none" stroke="#0b0bff" stroke-width="1.4"/>
<circle cx="641.75" cy="151.8" r="2.8" fill="none" stroke="#0b0bff" stroke-width="1.4"/>
<circle cx="644.04" cy="159.1" r="2.8" fill="none" stroke="#0b0bff" stroke-width="1.4"/>
<circle cx="646.34" cy="149.1" r="2.8" fill="none" stroke="#0b0bff" stroke-width="1.4"/>
<circle cx="648.63" cy="153.7" r="2.8" fill="none" stroke="#0b0bff" stroke-width="1.4"/>
<circle cx="650.93" cy="149.1" r="2.8" fill="none" stroke="#0b0bff" stroke-width="1.4"/>
<circle cx="653.23" cy="162.2" r="2.8" fill="none" stroke="#0b0bff" stroke-width="1.4"/>
<circle cx="655.52" cy="141.3" r="2.8" fill="none" stroke="#0b0bff" stroke-width="1.4"/>
<circle cx="657.81" cy="160.2" r="2.8" fill="none" stroke="#0b0bff" stroke-width="1.4"/>
<circle cx="660.11" cy="149.5" r="2.8" fill="none" stroke="#0b0bff" stroke-width="1.4"/>
</g>
<line x1="435.1" y1="206.4" x2="435.1" y2="34.6" stroke="#2a2a2a" stroke-width="1.8"/>
<line x1="434.2" y1="205.5" x2="683.4" y2="205.5" stroke="#2a2a2a" stroke-width="1.8"/>
<path d="M435.1 29.1 L438.8 41.2 L435.1 37.6 L431.4 41.2Z" fill="#111" stroke="#111" stroke-width="1.1" stroke-linejoin="round"/>
<path d="M688.9 205.5 L676.8 209.2 L680.4 205.5 L676.8 201.8Z" fill="#111" stroke="#111" stroke-width="1.1" stroke-linejoin="round"/>
<line x1="431.1" y1="66.72" x2="435.1" y2="66.72" stroke="#2a2a2a" stroke-width="1.4"/>
<line x1="431.1" y1="76.46" x2="435.1" y2="76.46" stroke="#2a2a2a" stroke-width="1.4"/>
<line x1="428.1" y1="86.2" x2="435.1" y2="86.2" stroke="#2a2a2a" stroke-width="1.4"/>
<line x1="431.1" y1="95.94" x2="435.1" y2="95.94" stroke="#2a2a2a" stroke-width="1.4"/>
<line x1="431.1" y1="105.68" x2="435.1" y2="105.68" stroke="#2a2a2a" stroke-width="1.4"/>
<line x1="431.1" y1="115.42" x2="435.1" y2="115.42" stroke="#2a2a2a" stroke-width="1.4"/>
<line x1="431.1" y1="125.16" x2="435.1" y2="125.16" stroke="#2a2a2a" stroke-width="1.4"/>
<line x1="428.1" y1="134.9" x2="435.1" y2="134.9" stroke="#2a2a2a" stroke-width="1.4"/>
<line x1="431.1" y1="144.64" x2="435.1" y2="144.64" stroke="#2a2a2a" stroke-width="1.4"/>
<line x1="431.1" y1="154.38" x2="435.1" y2="154.38" stroke="#2a2a2a" stroke-width="1.4"/>
<line x1="431.1" y1="164.12" x2="435.1" y2="164.12" stroke="#2a2a2a" stroke-width="1.4"/>
<line x1="431.1" y1="173.86" x2="435.1" y2="173.86" stroke="#2a2a2a" stroke-width="1.4"/>
<line x1="428.1" y1="183.6" x2="435.1" y2="183.6" stroke="#2a2a2a" stroke-width="1.4"/>
<line x1="431.1" y1="193.34" x2="435.1" y2="193.34" stroke="#2a2a2a" stroke-width="1.4"/>
<line x1="431.1" y1="203.08" x2="435.1" y2="203.08" stroke="#2a2a2a" stroke-width="1.4"/>
<text class="sa" x="398.7" y="90.9" font-size="13.3" textLength="23.6" lengthAdjust="spacingAndGlyphs">4.30</text>
<text class="sa" x="398.7" y="139.6" font-size="13.3" textLength="23.6" lengthAdjust="spacingAndGlyphs">4.29</text>
<text class="sa" x="398.7" y="188.3" font-size="13.3" textLength="23.6" lengthAdjust="spacingAndGlyphs">4.28</text>
<line x1="437.19" y1="205.5" x2="437.19" y2="209.1" stroke="#2a2a2a" stroke-width="1.3"/>
<line x1="441.76" y1="205.5" x2="441.76" y2="209.1" stroke="#2a2a2a" stroke-width="1.3"/>
<line x1="446.34" y1="205.5" x2="446.34" y2="209.1" stroke="#2a2a2a" stroke-width="1.3"/>
<line x1="450.92" y1="205.5" x2="450.92" y2="209.1" stroke="#2a2a2a" stroke-width="1.3"/>
<line x1="455.49" y1="205.5" x2="455.49" y2="209.1" stroke="#2a2a2a" stroke-width="1.3"/>
<line x1="460.07" y1="205.5" x2="460.07" y2="209.1" stroke="#2a2a2a" stroke-width="1.3"/>
<line x1="464.64" y1="205.5" x2="464.64" y2="209.1" stroke="#2a2a2a" stroke-width="1.3"/>
<line x1="469.22" y1="205.5" x2="469.22" y2="209.1" stroke="#2a2a2a" stroke-width="1.3"/>
<line x1="473.8" y1="205.5" x2="473.8" y2="209.1" stroke="#2a2a2a" stroke-width="1.3"/>
<line x1="478.37" y1="205.5" x2="478.37" y2="212" stroke="#2a2a2a" stroke-width="1.3"/>
<line x1="482.95" y1="205.5" x2="482.95" y2="209.1" stroke="#2a2a2a" stroke-width="1.3"/>
<line x1="487.52" y1="205.5" x2="487.52" y2="209.1" stroke="#2a2a2a" stroke-width="1.3"/>
<line x1="492.1" y1="205.5" x2="492.1" y2="209.1" stroke="#2a2a2a" stroke-width="1.3"/>
<line x1="496.68" y1="205.5" x2="496.68" y2="209.1" stroke="#2a2a2a" stroke-width="1.3"/>
<line x1="501.25" y1="205.5" x2="501.25" y2="209.1" stroke="#2a2a2a" stroke-width="1.3"/>
<line x1="505.83" y1="205.5" x2="505.83" y2="209.1" stroke="#2a2a2a" stroke-width="1.3"/>
<line x1="510.4" y1="205.5" x2="510.4" y2="209.1" stroke="#2a2a2a" stroke-width="1.3"/>
<line x1="514.98" y1="205.5" x2="514.98" y2="209.1" stroke="#2a2a2a" stroke-width="1.3"/>
<line x1="519.56" y1="205.5" x2="519.56" y2="209.1" stroke="#2a2a2a" stroke-width="1.3"/>
<line x1="524.13" y1="205.5" x2="524.13" y2="212" stroke="#2a2a2a" stroke-width="1.3"/>
<line x1="528.71" y1="205.5" x2="528.71" y2="209.1" stroke="#2a2a2a" stroke-width="1.3"/>
<line x1="533.28" y1="205.5" x2="533.28" y2="209.1" stroke="#2a2a2a" stroke-width="1.3"/>
<line x1="537.86" y1="205.5" x2="537.86" y2="209.1" stroke="#2a2a2a" stroke-width="1.3"/>
<line x1="542.44" y1="205.5" x2="542.44" y2="209.1" stroke="#2a2a2a" stroke-width="1.3"/>
<line x1="547.01" y1="205.5" x2="547.01" y2="209.1" stroke="#2a2a2a" stroke-width="1.3"/>
<line x1="551.59" y1="205.5" x2="551.59" y2="209.1" stroke="#2a2a2a" stroke-width="1.3"/>
<line x1="556.16" y1="205.5" x2="556.16" y2="209.1" stroke="#2a2a2a" stroke-width="1.3"/>
<line x1="560.74" y1="205.5" x2="560.74" y2="209.1" stroke="#2a2a2a" stroke-width="1.3"/>
<line x1="565.32" y1="205.5" x2="565.32" y2="209.1" stroke="#2a2a2a" stroke-width="1.3"/>
<line x1="569.89" y1="205.5" x2="569.89" y2="212" stroke="#2a2a2a" stroke-width="1.3"/>
<line x1="574.47" y1="205.5" x2="574.47" y2="209.1" stroke="#2a2a2a" stroke-width="1.3"/>
<line x1="579.04" y1="205.5" x2="579.04" y2="209.1" stroke="#2a2a2a" stroke-width="1.3"/>
<line x1="583.62" y1="205.5" x2="583.62" y2="209.1" stroke="#2a2a2a" stroke-width="1.3"/>
<line x1="588.2" y1="205.5" x2="588.2" y2="209.1" stroke="#2a2a2a" stroke-width="1.3"/>
<line x1="592.77" y1="205.5" x2="592.77" y2="209.1" stroke="#2a2a2a" stroke-width="1.3"/>
<line x1="597.35" y1="205.5" x2="597.35" y2="209.1" stroke="#2a2a2a" stroke-width="1.3"/>
<line x1="601.92" y1="205.5" x2="601.92" y2="209.1" stroke="#2a2a2a" stroke-width="1.3"/>
<line x1="606.5" y1="205.5" x2="606.5" y2="209.1" stroke="#2a2a2a" stroke-width="1.3"/>
<line x1="611.08" y1="205.5" x2="611.08" y2="209.1" stroke="#2a2a2a" stroke-width="1.3"/>
<line x1="615.65" y1="205.5" x2="615.65" y2="212" stroke="#2a2a2a" stroke-width="1.3"/>
<line x1="620.23" y1="205.5" x2="620.23" y2="209.1" stroke="#2a2a2a" stroke-width="1.3"/>
<line x1="624.8" y1="205.5" x2="624.8" y2="209.1" stroke="#2a2a2a" stroke-width="1.3"/>
<line x1="629.38" y1="205.5" x2="629.38" y2="209.1" stroke="#2a2a2a" stroke-width="1.3"/>
<line x1="633.96" y1="205.5" x2="633.96" y2="209.1" stroke="#2a2a2a" stroke-width="1.3"/>
<line x1="638.53" y1="205.5" x2="638.53" y2="209.1" stroke="#2a2a2a" stroke-width="1.3"/>
<line x1="643.11" y1="205.5" x2="643.11" y2="209.1" stroke="#2a2a2a" stroke-width="1.3"/>
<line x1="647.68" y1="205.5" x2="647.68" y2="209.1" stroke="#2a2a2a" stroke-width="1.3"/>
<line x1="652.26" y1="205.5" x2="652.26" y2="209.1" stroke="#2a2a2a" stroke-width="1.3"/>
<line x1="656.84" y1="205.5" x2="656.84" y2="209.1" stroke="#2a2a2a" stroke-width="1.3"/>
<text class="sa" x="463.37" y="225.2" font-size="12.2" textLength="30.06" lengthAdjust="spacingAndGlyphs">19.00</text>
<text class="sa" x="508.91" y="225.2" font-size="12.2" textLength="30.76" lengthAdjust="spacingAndGlyphs">39.00</text>
<text class="sa" x="555.14" y="225.2" font-size="12.2" textLength="30.06" lengthAdjust="spacingAndGlyphs">59.00</text>
<text class="sa" x="600.68" y="225.2" font-size="12.2" textLength="30.06" lengthAdjust="spacingAndGlyphs">79.00</text>
<text class="sa" x="406.28" y="45.8" font-size="12.6" textLength="16.02" lengthAdjust="spacingAndGlyphs">μm</text>
<text class="sa" transform="translate(374.1 155.6) rotate(-90)" x="0" y="0" font-size="14" textLength="47.8" lengthAdjust="spacingAndGlyphs">Sal (μm)</text>
<text class="se" x="666.58" y="114.3" font-size="12.6" textLength="21.26" lengthAdjust="spacingAndGlyphs">+2σ</text>
<text class="se" x="670.12" y="162.3" font-size="13" textLength="7.26" lengthAdjust="spacingAndGlyphs">μ</text>
<text class="se" x="666.58" y="203.3" font-size="12.6" textLength="21.26" lengthAdjust="spacingAndGlyphs">−2σ</text>
<text class="se" x="449.5" y="20.3" font-size="18.2" textLength="129.7" lengthAdjust="spacingAndGlyphs">Spatial parameter</text>
<line x1="583.1" y1="15.8" x2="594.6" y2="15.8" stroke="#1a1a1a" stroke-width="1.15"/>
<text class="se" x="597" y="20.3" font-size="18.2">S</text>
<text class="se" x="606.72" y="20.3" font-size="12.5" textLength="6.92" lengthAdjust="spacingAndGlyphs">al</text>
<clipPath id="c2"><rect x="83.9" y="385.4" width="227.4" height="152.5"/></clipPath>
<line x1="127.69" y1="385.1" x2="127.69" y2="533.1" stroke="#c8c8c8" stroke-width="1.3"/>
<line x1="173.99" y1="385.1" x2="173.99" y2="533.1" stroke="#c8c8c8" stroke-width="1.3"/>
<line x1="220.29" y1="385.1" x2="220.29" y2="533.1" stroke="#c8c8c8" stroke-width="1.3"/>
<line x1="266.58" y1="385.1" x2="266.58" y2="533.1" stroke="#c8c8c8" stroke-width="1.3"/>
<line x1="83.9" y1="388.4" x2="310.5" y2="388.4" stroke="#c8c8c8" stroke-width="1.3"/>
<line x1="83.9" y1="419.15" x2="310.5" y2="419.15" stroke="#c8c8c8" stroke-width="1.3"/>
<line x1="83.9" y1="449.9" x2="310.5" y2="449.9" stroke="#c8c8c8" stroke-width="1.3"/>
<line x1="83.9" y1="480.65" x2="310.5" y2="480.65" stroke="#c8c8c8" stroke-width="1.3"/>
<line x1="83.9" y1="511.4" x2="310.5" y2="511.4" stroke="#c8c8c8" stroke-width="1.3"/>
<line x1="83.9" y1="523.3" x2="309.3" y2="523.3" stroke="#7b7b7b" stroke-width="1.9" stroke-dasharray="17.63 5.42"/>
<line x1="83.9" y1="445.9" x2="310.5" y2="445.9" stroke="#1e8fff" stroke-width="1.6"/>
<path d="M83.9 384.6 H310.5 V533.1" fill="none" stroke="#1a1a1a" stroke-width="1.5"/>
<g clip-path="url(#c2)">
<path d="M83.7 426.9 L86.03 439.6 L88.36 450.1 L90.68 514 L93.01 533 L95.34 474.1 L97.67 472.9 L100 463.9 L102.32 483.7 L104.65 463.9 L106.98 407.8 L109.31 391.8 L111.64 411.7 L113.96 400 L116.29 479.4 L118.62 465.6 L120.95 464.7 L123.28 464.1 L125.6 399 L127.93 477.2 L130.26 477.2 L132.59 476 L134.92 459.4 L137.24 472.4 L139.57 466.7 L141.9 408.3 L144.23 477 L146.56 448.9 L148.88 408.3 L151.21 405.9 L153.54 415.2 L155.87 479.6 L158.2 397.3 L160.52 400.8 L162.85 415.2 L165.18 391.1 L167.51 398.8 L169.84 403.1 L172.16 408.1 L174.49 409 L176.82 414 L179.15 418.3 L181.48 409.3 L183.8 407.5 L186.13 417.9 L188.46 423.6 L190.79 470.9 L193.12 409.7 L195.44 481.7 L197.77 414.2 L200.1 420.7 L202.43 484 L204.76 492 L207.08 487.9 L209.41 496.1 L211.74 412 L214.07 494.1 L216.4 490.3 L218.72 497.7 L221.05 419.4 L223.38 507 L225.71 474.9 L228.04 499.2 L230.36 416 L232.69 483.7 L235.02 502.3 L237.35 403.9 L239.68 491.5 L242 490.3 L244.33 419.4 L246.66 487 L248.99 404.2 L251.32 484.5 L253.64 408.9 L255.97 401.6 L258.3 481 L260.63 473.6 L262.96 404.7 L265.28 481.8 L267.61 490.3 L269.94 477.2 L272.27 472.8 L274.6 488.3 L276.92 463.1 L279.25 482.1 L281.58 420.2 L283.91 414.4 L286.24 477.8 L288.56 394.6 L290.89 476.7 L293.22 405.9 L295.55 385.3 L297.88 471.6 L300.2 391.1 L302.53 402.7 L304.86 396.6 L307.19 467.9 L309.52 405.8 L311.84 386.1" fill="none" stroke="#a9a9ff" stroke-width="0.9" stroke-linejoin="round"/>
<circle cx="83.7" cy="426.9" r="2.8" fill="none" stroke="#0b0bff" stroke-width="1.4"/>
<circle cx="86.03" cy="439.6" r="2.8" fill="none" stroke="#0b0bff" stroke-width="1.4"/>
<circle cx="88.36" cy="450.1" r="2.8" fill="none" stroke="#0b0bff" stroke-width="1.4"/>
<circle cx="90.68" cy="514" r="2.8" fill="none" stroke="#0b0bff" stroke-width="1.4"/>
<circle cx="93.01" cy="533" r="2.8" fill="none" stroke="#0b0bff" stroke-width="1.4"/>
<circle cx="95.34" cy="474.1" r="2.8" fill="none" stroke="#0b0bff" stroke-width="1.4"/>
<circle cx="97.67" cy="472.9" r="2.8" fill="none" stroke="#0b0bff" stroke-width="1.4"/>
<circle cx="100" cy="463.9" r="2.8" fill="none" stroke="#0b0bff" stroke-width="1.4"/>
<circle cx="102.32" cy="483.7" r="2.8" fill="none" stroke="#0b0bff" stroke-width="1.4"/>
<circle cx="104.65" cy="463.9" r="2.8" fill="none" stroke="#0b0bff" stroke-width="1.4"/>
<circle cx="106.98" cy="407.8" r="2.8" fill="none" stroke="#0b0bff" stroke-width="1.4"/>
<circle cx="109.31" cy="391.8" r="2.8" fill="none" stroke="#0b0bff" stroke-width="1.4"/>
<circle cx="111.64" cy="411.7" r="2.8" fill="none" stroke="#0b0bff" stroke-width="1.4"/>
<circle cx="113.96" cy="400" r="2.8" fill="none" stroke="#0b0bff" stroke-width="1.4"/>
<circle cx="116.29" cy="479.4" r="2.8" fill="none" stroke="#0b0bff" stroke-width="1.4"/>
<circle cx="118.62" cy="465.6" r="2.8" fill="none" stroke="#0b0bff" stroke-width="1.4"/>
<circle cx="120.95" cy="464.7" r="2.8" fill="none" stroke="#0b0bff" stroke-width="1.4"/>
<circle cx="123.28" cy="464.1" r="2.8" fill="none" stroke="#0b0bff" stroke-width="1.4"/>
<circle cx="125.6" cy="399" r="2.8" fill="none" stroke="#0b0bff" stroke-width="1.4"/>
<circle cx="127.93" cy="477.2" r="2.8" fill="none" stroke="#0b0bff" stroke-width="1.4"/>
<circle cx="130.26" cy="477.2" r="2.8" fill="none" stroke="#0b0bff" stroke-width="1.4"/>
<circle cx="132.59" cy="476" r="2.8" fill="none" stroke="#0b0bff" stroke-width="1.4"/>
<circle cx="134.92" cy="459.4" r="2.8" fill="none" stroke="#0b0bff" stroke-width="1.4"/>
<circle cx="137.24" cy="472.4" r="2.8" fill="none" stroke="#0b0bff" stroke-width="1.4"/>
<circle cx="139.57" cy="466.7" r="2.8" fill="none" stroke="#0b0bff" stroke-width="1.4"/>
<circle cx="141.9" cy="408.3" r="2.8" fill="none" stroke="#0b0bff" stroke-width="1.4"/>
<circle cx="144.23" cy="477" r="2.8" fill="none" stroke="#0b0bff" stroke-width="1.4"/>
<circle cx="146.56" cy="448.9" r="2.8" fill="none" stroke="#0b0bff" stroke-width="1.4"/>
<circle cx="148.88" cy="408.3" r="2.8" fill="none" stroke="#0b0bff" stroke-width="1.4"/>
<circle cx="151.21" cy="405.9" r="2.8" fill="none" stroke="#0b0bff" stroke-width="1.4"/>
<circle cx="153.54" cy="415.2" r="2.8" fill="none" stroke="#0b0bff" stroke-width="1.4"/>
<circle cx="155.87" cy="479.6" r="2.8" fill="none" stroke="#0b0bff" stroke-width="1.4"/>
<circle cx="158.2" cy="397.3" r="2.8" fill="none" stroke="#0b0bff" stroke-width="1.4"/>
<circle cx="160.52" cy="400.8" r="2.8" fill="none" stroke="#0b0bff" stroke-width="1.4"/>
<circle cx="162.85" cy="415.2" r="2.8" fill="none" stroke="#0b0bff" stroke-width="1.4"/>
<circle cx="165.18" cy="391.1" r="2.8" fill="none" stroke="#0b0bff" stroke-width="1.4"/>
<circle cx="167.51" cy="398.8" r="2.8" fill="none" stroke="#0b0bff" stroke-width="1.4"/>
<circle cx="169.84" cy="403.1" r="2.8" fill="none" stroke="#0b0bff" stroke-width="1.4"/>
<circle cx="172.16" cy="408.1" r="2.8" fill="none" stroke="#0b0bff" stroke-width="1.4"/>
<circle cx="174.49" cy="409" r="2.8" fill="none" stroke="#0b0bff" stroke-width="1.4"/>
<circle cx="176.82" cy="414" r="2.8" fill="none" stroke="#0b0bff" stroke-width="1.4"/>
<circle cx="179.15" cy="418.3" r="2.8" fill="none" stroke="#0b0bff" stroke-width="1.4"/>
<circle cx="181.48" cy="409.3" r="2.8" fill="none" stroke="#0b0bff" stroke-width="1.4"/>
<circle cx="183.8" cy="407.5" r="2.8" fill="none" stroke="#0b0bff" stroke-width="1.4"/>
<circle cx="186.13" cy="417.9" r="2.8" fill="none" stroke="#0b0bff" stroke-width="1.4"/>
<circle cx="188.46" cy="423.6" r="2.8" fill="none" stroke="#0b0bff" stroke-width="1.4"/>
<circle cx="190.79" cy="470.9" r="2.8" fill="none" stroke="#0b0bff" stroke-width="1.4"/>
<circle cx="193.12" cy="409.7" r="2.8" fill="none" stroke="#0b0bff" stroke-width="1.4"/>
<circle cx="195.44" cy="481.7" r="2.8" fill="none" stroke="#0b0bff" stroke-width="1.4"/>
<circle cx="197.77" cy="414.2" r="2.8" fill="none" stroke="#0b0bff" stroke-width="1.4"/>
<circle cx="200.1" cy="420.7" r="2.8" fill="none" stroke="#0b0bff" stroke-width="1.4"/>
<circle cx="202.43" cy="484" r="2.8" fill="none" stroke="#0b0bff" stroke-width="1.4"/>
<circle cx="204.76" cy="492" r="2.8" fill="none" stroke="#0b0bff" stroke-width="1.4"/>
<circle cx="207.08" cy="487.9" r="2.8" fill="none" stroke="#0b0bff" stroke-width="1.4"/>
<circle cx="209.41" cy="496.1" r="2.8" fill="none" stroke="#0b0bff" stroke-width="1.4"/>
<circle cx="211.74" cy="412" r="2.8" fill="none" stroke="#0b0bff" stroke-width="1.4"/>
<circle cx="214.07" cy="494.1" r="2.8" fill="none" stroke="#0b0bff" stroke-width="1.4"/>
<circle cx="216.4" cy="490.3" r="2.8" fill="none" stroke="#0b0bff" stroke-width="1.4"/>
<circle cx="218.72" cy="497.7" r="2.8" fill="none" stroke="#0b0bff" stroke-width="1.4"/>
<circle cx="221.05" cy="419.4" r="2.8" fill="none" stroke="#0b0bff" stroke-width="1.4"/>
<circle cx="223.38" cy="507" r="2.8" fill="none" stroke="#0b0bff" stroke-width="1.4"/>
<circle cx="225.71" cy="474.9" r="2.8" fill="none" stroke="#0b0bff" stroke-width="1.4"/>
<circle cx="228.04" cy="499.2" r="2.8" fill="none" stroke="#0b0bff" stroke-width="1.4"/>
<circle cx="230.36" cy="416" r="2.8" fill="none" stroke="#0b0bff" stroke-width="1.4"/>
<circle cx="232.69" cy="483.7" r="2.8" fill="none" stroke="#0b0bff" stroke-width="1.4"/>
<circle cx="235.02" cy="502.3" r="2.8" fill="none" stroke="#0b0bff" stroke-width="1.4"/>
<circle cx="237.35" cy="403.9" r="2.8" fill="none" stroke="#0b0bff" stroke-width="1.4"/>
<circle cx="239.68" cy="491.5" r="2.8" fill="none" stroke="#0b0bff" stroke-width="1.4"/>
<circle cx="242" cy="490.3" r="2.8" fill="none" stroke="#0b0bff" stroke-width="1.4"/>
<circle cx="244.33" cy="419.4" r="2.8" fill="none" stroke="#0b0bff" stroke-width="1.4"/>
<circle cx="246.66" cy="487" r="2.8" fill="none" stroke="#0b0bff" stroke-width="1.4"/>
<circle cx="248.99" cy="404.2" r="2.8" fill="none" stroke="#0b0bff" stroke-width="1.4"/>
<circle cx="251.32" cy="484.5" r="2.8" fill="none" stroke="#0b0bff" stroke-width="1.4"/>
<circle cx="253.64" cy="408.9" r="2.8" fill="none" stroke="#0b0bff" stroke-width="1.4"/>
<circle cx="255.97" cy="401.6" r="2.8" fill="none" stroke="#0b0bff" stroke-width="1.4"/>
<circle cx="258.3" cy="481" r="2.8" fill="none" stroke="#0b0bff" stroke-width="1.4"/>
<circle cx="260.63" cy="473.6" r="2.8" fill="none" stroke="#0b0bff" stroke-width="1.4"/>
<circle cx="262.96" cy="404.7" r="2.8" fill="none" stroke="#0b0bff" stroke-width="1.4"/>
<circle cx="265.28" cy="481.8" r="2.8" fill="none" stroke="#0b0bff" stroke-width="1.4"/>
<circle cx="267.61" cy="490.3" r="2.8" fill="none" stroke="#0b0bff" stroke-width="1.4"/>
<circle cx="269.94" cy="477.2" r="2.8" fill="none" stroke="#0b0bff" stroke-width="1.4"/>
<circle cx="272.27" cy="472.8" r="2.8" fill="none" stroke="#0b0bff" stroke-width="1.4"/>
<circle cx="274.6" cy="488.3" r="2.8" fill="none" stroke="#0b0bff" stroke-width="1.4"/>
<circle cx="276.92" cy="463.1" r="2.8" fill="none" stroke="#0b0bff" stroke-width="1.4"/>
<circle cx="279.25" cy="482.1" r="2.8" fill="none" stroke="#0b0bff" stroke-width="1.4"/>
<circle cx="281.58" cy="420.2" r="2.8" fill="none" stroke="#0b0bff" stroke-width="1.4"/>
<circle cx="283.91" cy="414.4" r="2.8" fill="none" stroke="#0b0bff" stroke-width="1.4"/>
<circle cx="286.24" cy="477.8" r="2.8" fill="none" stroke="#0b0bff" stroke-width="1.4"/>
<circle cx="288.56" cy="394.6" r="2.8" fill="none" stroke="#0b0bff" stroke-width="1.4"/>
<circle cx="290.89" cy="476.7" r="2.8" fill="none" stroke="#0b0bff" stroke-width="1.4"/>
<circle cx="293.22" cy="405.9" r="2.8" fill="none" stroke="#0b0bff" stroke-width="1.4"/>
<circle cx="295.55" cy="385.3" r="2.8" fill="none" stroke="#0b0bff" stroke-width="1.4"/>
<circle cx="297.88" cy="471.6" r="2.8" fill="none" stroke="#0b0bff" stroke-width="1.4"/>
<circle cx="300.2" cy="391.1" r="2.8" fill="none" stroke="#0b0bff" stroke-width="1.4"/>
<circle cx="302.53" cy="402.7" r="2.8" fill="none" stroke="#0b0bff" stroke-width="1.4"/>
<circle cx="304.86" cy="396.6" r="2.8" fill="none" stroke="#0b0bff" stroke-width="1.4"/>
<circle cx="307.19" cy="467.9" r="2.8" fill="none" stroke="#0b0bff" stroke-width="1.4"/>
<circle cx="309.52" cy="405.8" r="2.8" fill="none" stroke="#0b0bff" stroke-width="1.4"/>
<circle cx="311.84" cy="386.1" r="2.8" fill="none" stroke="#0b0bff" stroke-width="1.4"/>
</g>
<line x1="83.9" y1="534" x2="83.9" y2="360.3" stroke="#2a2a2a" stroke-width="1.8"/>
<line x1="83" y1="533.1" x2="335.2" y2="533.1" stroke="#2a2a2a" stroke-width="1.8"/>
<path d="M83.9 354.8 L87.6 366.9 L83.9 363.3 L80.2 366.9Z" fill="#111" stroke="#111" stroke-width="1.1" stroke-linejoin="round"/>
<path d="M340.7 533.1 L328.6 536.8 L332.2 533.1 L328.6 529.4Z" fill="#111" stroke="#111" stroke-width="1.1" stroke-linejoin="round"/>
<line x1="76.9" y1="388.4" x2="83.9" y2="388.4" stroke="#2a2a2a" stroke-width="1.4"/>
<line x1="80.3" y1="394.55" x2="83.9" y2="394.55" stroke="#2a2a2a" stroke-width="1.4"/>
<line x1="80.3" y1="400.7" x2="83.9" y2="400.7" stroke="#2a2a2a" stroke-width="1.4"/>
<line x1="80.3" y1="406.85" x2="83.9" y2="406.85" stroke="#2a2a2a" stroke-width="1.4"/>
<line x1="80.3" y1="413" x2="83.9" y2="413" stroke="#2a2a2a" stroke-width="1.4"/>
<line x1="76.9" y1="419.15" x2="83.9" y2="419.15" stroke="#2a2a2a" stroke-width="1.4"/>
<line x1="80.3" y1="425.3" x2="83.9" y2="425.3" stroke="#2a2a2a" stroke-width="1.4"/>
<line x1="80.3" y1="431.45" x2="83.9" y2="431.45" stroke="#2a2a2a" stroke-width="1.4"/>
<line x1="80.3" y1="437.6" x2="83.9" y2="437.6" stroke="#2a2a2a" stroke-width="1.4"/>
<line x1="80.3" y1="443.75" x2="83.9" y2="443.75" stroke="#2a2a2a" stroke-width="1.4"/>
<line x1="76.9" y1="449.9" x2="83.9" y2="449.9" stroke="#2a2a2a" stroke-width="1.4"/>
<line x1="80.3" y1="456.05" x2="83.9" y2="456.05" stroke="#2a2a2a" stroke-width="1.4"/>
<line x1="80.3" y1="462.2" x2="83.9" y2="462.2" stroke="#2a2a2a" stroke-width="1.4"/>
<line x1="80.3" y1="468.35" x2="83.9" y2="468.35" stroke="#2a2a2a" stroke-width="1.4"/>
<line x1="80.3" y1="474.5" x2="83.9" y2="474.5" stroke="#2a2a2a" stroke-width="1.4"/>
<line x1="76.9" y1="480.65" x2="83.9" y2="480.65" stroke="#2a2a2a" stroke-width="1.4"/>
<line x1="80.3" y1="486.8" x2="83.9" y2="486.8" stroke="#2a2a2a" stroke-width="1.4"/>
<line x1="80.3" y1="492.95" x2="83.9" y2="492.95" stroke="#2a2a2a" stroke-width="1.4"/>
<line x1="80.3" y1="499.1" x2="83.9" y2="499.1" stroke="#2a2a2a" stroke-width="1.4"/>
<line x1="80.3" y1="505.25" x2="83.9" y2="505.25" stroke="#2a2a2a" stroke-width="1.4"/>
<line x1="76.9" y1="511.4" x2="83.9" y2="511.4" stroke="#2a2a2a" stroke-width="1.4"/>
<line x1="80.3" y1="517.55" x2="83.9" y2="517.55" stroke="#2a2a2a" stroke-width="1.4"/>
<line x1="80.3" y1="523.7" x2="83.9" y2="523.7" stroke="#2a2a2a" stroke-width="1.4"/>
<line x1="80.3" y1="529.85" x2="83.9" y2="529.85" stroke="#2a2a2a" stroke-width="1.4"/>
<text class="sa" x="34.36" y="393.1" font-size="13.3" textLength="36.32" lengthAdjust="spacingAndGlyphs">0.0530</text>
<text class="sa" x="34.36" y="423.85" font-size="13.3" textLength="36.32" lengthAdjust="spacingAndGlyphs">0.0529</text>
<text class="sa" x="34.36" y="454.6" font-size="13.3" textLength="36.32" lengthAdjust="spacingAndGlyphs">0.0528</text>
<text class="sa" x="34.36" y="485.35" font-size="13.3" textLength="36.32" lengthAdjust="spacingAndGlyphs">0.0527</text>
<text class="sa" x="34.36" y="516.1" font-size="13.3" textLength="36.32" lengthAdjust="spacingAndGlyphs">0.0526</text>
<line x1="86.02" y1="533.1" x2="86.02" y2="536.7" stroke="#2a2a2a" stroke-width="1.3"/>
<line x1="90.65" y1="533.1" x2="90.65" y2="536.7" stroke="#2a2a2a" stroke-width="1.3"/>
<line x1="95.28" y1="533.1" x2="95.28" y2="536.7" stroke="#2a2a2a" stroke-width="1.3"/>
<line x1="99.91" y1="533.1" x2="99.91" y2="536.7" stroke="#2a2a2a" stroke-width="1.3"/>
<line x1="104.53" y1="533.1" x2="104.53" y2="536.7" stroke="#2a2a2a" stroke-width="1.3"/>
<line x1="109.17" y1="533.1" x2="109.17" y2="536.7" stroke="#2a2a2a" stroke-width="1.3"/>
<line x1="113.8" y1="533.1" x2="113.8" y2="536.7" stroke="#2a2a2a" stroke-width="1.3"/>
<line x1="118.43" y1="533.1" x2="118.43" y2="536.7" stroke="#2a2a2a" stroke-width="1.3"/>
<line x1="123.06" y1="533.1" x2="123.06" y2="536.7" stroke="#2a2a2a" stroke-width="1.3"/>
<line x1="127.69" y1="533.1" x2="127.69" y2="539.6" stroke="#2a2a2a" stroke-width="1.3"/>
<line x1="132.31" y1="533.1" x2="132.31" y2="536.7" stroke="#2a2a2a" stroke-width="1.3"/>
<line x1="136.94" y1="533.1" x2="136.94" y2="536.7" stroke="#2a2a2a" stroke-width="1.3"/>
<line x1="141.57" y1="533.1" x2="141.57" y2="536.7" stroke="#2a2a2a" stroke-width="1.3"/>
<line x1="146.2" y1="533.1" x2="146.2" y2="536.7" stroke="#2a2a2a" stroke-width="1.3"/>
<line x1="150.84" y1="533.1" x2="150.84" y2="536.7" stroke="#2a2a2a" stroke-width="1.3"/>
<line x1="155.47" y1="533.1" x2="155.47" y2="536.7" stroke="#2a2a2a" stroke-width="1.3"/>
<line x1="160.09" y1="533.1" x2="160.09" y2="536.7" stroke="#2a2a2a" stroke-width="1.3"/>
<line x1="164.72" y1="533.1" x2="164.72" y2="536.7" stroke="#2a2a2a" stroke-width="1.3"/>
<line x1="169.36" y1="533.1" x2="169.36" y2="536.7" stroke="#2a2a2a" stroke-width="1.3"/>
<line x1="173.99" y1="533.1" x2="173.99" y2="539.6" stroke="#2a2a2a" stroke-width="1.3"/>
<line x1="178.62" y1="533.1" x2="178.62" y2="536.7" stroke="#2a2a2a" stroke-width="1.3"/>
<line x1="183.25" y1="533.1" x2="183.25" y2="536.7" stroke="#2a2a2a" stroke-width="1.3"/>
<line x1="187.88" y1="533.1" x2="187.88" y2="536.7" stroke="#2a2a2a" stroke-width="1.3"/>
<line x1="192.5" y1="533.1" x2="192.5" y2="536.7" stroke="#2a2a2a" stroke-width="1.3"/>
<line x1="197.13" y1="533.1" x2="197.13" y2="536.7" stroke="#2a2a2a" stroke-width="1.3"/>
<line x1="201.76" y1="533.1" x2="201.76" y2="536.7" stroke="#2a2a2a" stroke-width="1.3"/>
<line x1="206.39" y1="533.1" x2="206.39" y2="536.7" stroke="#2a2a2a" stroke-width="1.3"/>
<line x1="211.03" y1="533.1" x2="211.03" y2="536.7" stroke="#2a2a2a" stroke-width="1.3"/>
<line x1="215.65" y1="533.1" x2="215.65" y2="536.7" stroke="#2a2a2a" stroke-width="1.3"/>
<line x1="220.29" y1="533.1" x2="220.29" y2="539.6" stroke="#2a2a2a" stroke-width="1.3"/>
<line x1="224.92" y1="533.1" x2="224.92" y2="536.7" stroke="#2a2a2a" stroke-width="1.3"/>
<line x1="229.55" y1="533.1" x2="229.55" y2="536.7" stroke="#2a2a2a" stroke-width="1.3"/>
<line x1="234.18" y1="533.1" x2="234.18" y2="536.7" stroke="#2a2a2a" stroke-width="1.3"/>
<line x1="238.81" y1="533.1" x2="238.81" y2="536.7" stroke="#2a2a2a" stroke-width="1.3"/>
<line x1="243.44" y1="533.1" x2="243.44" y2="536.7" stroke="#2a2a2a" stroke-width="1.3"/>
<line x1="248.06" y1="533.1" x2="248.06" y2="536.7" stroke="#2a2a2a" stroke-width="1.3"/>
<line x1="252.69" y1="533.1" x2="252.69" y2="536.7" stroke="#2a2a2a" stroke-width="1.3"/>
<line x1="257.32" y1="533.1" x2="257.32" y2="536.7" stroke="#2a2a2a" stroke-width="1.3"/>
<line x1="261.95" y1="533.1" x2="261.95" y2="536.7" stroke="#2a2a2a" stroke-width="1.3"/>
<line x1="266.58" y1="533.1" x2="266.58" y2="539.6" stroke="#2a2a2a" stroke-width="1.3"/>
<line x1="271.21" y1="533.1" x2="271.21" y2="536.7" stroke="#2a2a2a" stroke-width="1.3"/>
<line x1="275.84" y1="533.1" x2="275.84" y2="536.7" stroke="#2a2a2a" stroke-width="1.3"/>
<line x1="280.48" y1="533.1" x2="280.48" y2="536.7" stroke="#2a2a2a" stroke-width="1.3"/>
<line x1="285.11" y1="533.1" x2="285.11" y2="536.7" stroke="#2a2a2a" stroke-width="1.3"/>
<line x1="289.74" y1="533.1" x2="289.74" y2="536.7" stroke="#2a2a2a" stroke-width="1.3"/>
<line x1="294.37" y1="533.1" x2="294.37" y2="536.7" stroke="#2a2a2a" stroke-width="1.3"/>
<line x1="299" y1="533.1" x2="299" y2="536.7" stroke="#2a2a2a" stroke-width="1.3"/>
<line x1="303.62" y1="533.1" x2="303.62" y2="536.7" stroke="#2a2a2a" stroke-width="1.3"/>
<line x1="308.25" y1="533.1" x2="308.25" y2="536.7" stroke="#2a2a2a" stroke-width="1.3"/>
<text class="sa" x="112.45" y="552.8" font-size="12.2" textLength="30.06" lengthAdjust="spacingAndGlyphs">19.00</text>
<text class="sa" x="159.03" y="552.8" font-size="12.2" textLength="30.06" lengthAdjust="spacingAndGlyphs">39.00</text>
<text class="sa" x="205.61" y="552.8" font-size="12.2" textLength="30.06" lengthAdjust="spacingAndGlyphs">59.00</text>
<text class="sa" x="252.17" y="552.8" font-size="12.2" textLength="29.36" lengthAdjust="spacingAndGlyphs">79.00</text>
<text class="sa" transform="translate(21.8 467.55) rotate(-90)" x="0" y="0" font-size="14" textLength="16.9" lengthAdjust="spacingAndGlyphs">Str</text>
<text class="se" x="322.16" y="453" font-size="13" textLength="7.26" lengthAdjust="spacingAndGlyphs">μ</text>
<text class="se" x="318.58" y="529.3" font-size="12.6" textLength="21.26" lengthAdjust="spacingAndGlyphs">−2σ</text>
<text class="se" x="95.4" y="345.5" font-size="18.2" textLength="129.8" lengthAdjust="spacingAndGlyphs">Spatial parameter</text>
<line x1="229.1" y1="341" x2="241.1" y2="341" stroke="#1a1a1a" stroke-width="1.15"/>
<text class="se" x="242.7" y="345.5" font-size="18.2">S</text>
<text class="se" x="252.54" y="345.5" font-size="12.5" textLength="5.9" lengthAdjust="spacingAndGlyphs">tr</text>
<clipPath id="c3"><rect x="435.1" y="384.3" width="227.5" height="152.8"/></clipPath>
<line x1="479.26" y1="384" x2="479.26" y2="532.3" stroke="#c8c8c8" stroke-width="1.3"/>
<line x1="525.64" y1="384" x2="525.64" y2="532.3" stroke="#c8c8c8" stroke-width="1.3"/>
<line x1="572.02" y1="384" x2="572.02" y2="532.3" stroke="#c8c8c8" stroke-width="1.3"/>
<line x1="618.4" y1="384" x2="618.4" y2="532.3" stroke="#c8c8c8" stroke-width="1.3"/>
<line x1="435.1" y1="390.9" x2="661.8" y2="390.9" stroke="#c8c8c8" stroke-width="1.3"/>
<line x1="435.1" y1="435.2" x2="661.8" y2="435.2" stroke="#c8c8c8" stroke-width="1.3"/>
<line x1="435.1" y1="479.4" x2="661.8" y2="479.4" stroke="#c8c8c8" stroke-width="1.3"/>
<line x1="435.1" y1="523.2" x2="661.8" y2="523.2" stroke="#c8c8c8" stroke-width="1.3"/>
<line x1="435.1" y1="397.7" x2="660.6" y2="397.7" stroke="#7b7b7b" stroke-width="1.9" stroke-dasharray="17.64 5.42"/>
<line x1="435.1" y1="472.1" x2="661.8" y2="472.1" stroke="#1e8fff" stroke-width="1.6"/>
<path d="M435.1 383.5 H661.8 V532.3" fill="none" stroke="#1a1a1a" stroke-width="1.5"/>
<g clip-path="url(#c3)">
<path d="M435.2 512.1 L437.52 476.7 L439.85 450.9 L442.17 468.2 L444.5 440 L446.82 432.2 L449.14 457.1 L451.47 449.5 L453.79 436.1 L456.12 464.1 L458.44 442.3 L460.76 439.3 L463.09 427.2 L465.41 441.5 L467.74 454.1 L470.06 486.1 L472.38 448.7 L474.71 474.2 L477.03 414.7 L479.36 466.4 L481.68 465.3 L484 473.1 L486.33 465.8 L488.65 472 L490.98 426.1 L493.3 406 L495.62 466.9 L497.95 462.2 L500.27 421 L502.6 431.9 L504.92 412.4 L507.24 400.4 L509.57 420.6 L511.89 402.7 L514.22 426.9 L516.54 439.3 L518.86 411.9 L521.19 390.6 L523.51 434.2 L525.84 424.5 L528.16 415.2 L530.48 384.3 L532.81 416.3 L535.13 437 L537.46 432.2 L539.78 436.5 L542.1 465.7 L544.43 477.4 L546.75 453.7 L549.08 437.6 L551.4 467.4 L553.72 488.2 L556.05 483.3 L558.37 514.4 L560.7 512.1 L563.02 481.2 L565.34 500.4 L567.67 480.6 L569.99 499.6 L572.32 506.3 L574.64 502.7 L576.96 504.3 L579.29 505.9 L581.61 497.3 L583.94 516.3 L586.26 502 L588.58 487.5 L590.91 532.3 L593.23 515.5 L595.56 485.7 L597.88 493.1 L600.2 480.2 L602.53 515.2 L604.85 526.7 L607.18 496 L609.5 497.8 L611.82 502.5 L614.15 485.5 L616.47 522.5 L618.8 496.3 L621.12 511.3 L623.44 515.9 L625.77 494.7 L628.09 518.6 L630.42 515.2 L632.74 491.3 L635.06 496 L637.39 497.8 L639.71 524.4 L642.04 508.8 L644.36 504.5 L646.68 508.8 L649.01 513.9 L651.33 516.6 L653.66 516.6 L655.98 483.2 L658.3 510.8 L660.63 492.1 L662.95 525.3" fill="none" stroke="#a9a9ff" stroke-width="0.9" stroke-linejoin="round"/>
<circle cx="435.2" cy="512.1" r="2.8" fill="none" stroke="#0b0bff" stroke-width="1.4"/>
<circle cx="437.52" cy="476.7" r="2.8" fill="none" stroke="#0b0bff" stroke-width="1.4"/>
<circle cx="439.85" cy="450.9" r="2.8" fill="none" stroke="#0b0bff" stroke-width="1.4"/>
<circle cx="442.17" cy="468.2" r="2.8" fill="none" stroke="#0b0bff" stroke-width="1.4"/>
<circle cx="444.5" cy="440" r="2.8" fill="none" stroke="#0b0bff" stroke-width="1.4"/>
<circle cx="446.82" cy="432.2" r="2.8" fill="none" stroke="#0b0bff" stroke-width="1.4"/>
<circle cx="449.14" cy="457.1" r="2.8" fill="none" stroke="#0b0bff" stroke-width="1.4"/>
<circle cx="451.47" cy="449.5" r="2.8" fill="none" stroke="#0b0bff" stroke-width="1.4"/>
<circle cx="453.79" cy="436.1" r="2.8" fill="none" stroke="#0b0bff" stroke-width="1.4"/>
<circle cx="456.12" cy="464.1" r="2.8" fill="none" stroke="#0b0bff" stroke-width="1.4"/>
<circle cx="458.44" cy="442.3" r="2.8" fill="none" stroke="#0b0bff" stroke-width="1.4"/>
<circle cx="460.76" cy="439.3" r="2.8" fill="none" stroke="#0b0bff" stroke-width="1.4"/>
<circle cx="463.09" cy="427.2" r="2.8" fill="none" stroke="#0b0bff" stroke-width="1.4"/>
<circle cx="465.41" cy="441.5" r="2.8" fill="none" stroke="#0b0bff" stroke-width="1.4"/>
<circle cx="467.74" cy="454.1" r="2.8" fill="none" stroke="#0b0bff" stroke-width="1.4"/>
<circle cx="470.06" cy="486.1" r="2.8" fill="none" stroke="#0b0bff" stroke-width="1.4"/>
<circle cx="472.38" cy="448.7" r="2.8" fill="none" stroke="#0b0bff" stroke-width="1.4"/>
<circle cx="474.71" cy="474.2" r="2.8" fill="none" stroke="#0b0bff" stroke-width="1.4"/>
<circle cx="477.03" cy="414.7" r="2.8" fill="none" stroke="#0b0bff" stroke-width="1.4"/>
<circle cx="479.36" cy="466.4" r="2.8" fill="none" stroke="#0b0bff" stroke-width="1.4"/>
<circle cx="481.68" cy="465.3" r="2.8" fill="none" stroke="#0b0bff" stroke-width="1.4"/>
<circle cx="484" cy="473.1" r="2.8" fill="none" stroke="#0b0bff" stroke-width="1.4"/>
<circle cx="486.33" cy="465.8" r="2.8" fill="none" stroke="#0b0bff" stroke-width="1.4"/>
<circle cx="488.65" cy="472" r="2.8" fill="none" stroke="#0b0bff" stroke-width="1.4"/>
<circle cx="490.98" cy="426.1" r="2.8" fill="none" stroke="#0b0bff" stroke-width="1.4"/>
<circle cx="493.3" cy="406" r="2.8" fill="none" stroke="#0b0bff" stroke-width="1.4"/>
<circle cx="495.62" cy="466.9" r="2.8" fill="none" stroke="#0b0bff" stroke-width="1.4"/>
<circle cx="497.95" cy="462.2" r="2.8" fill="none" stroke="#0b0bff" stroke-width="1.4"/>
<circle cx="500.27" cy="421" r="2.8" fill="none" stroke="#0b0bff" stroke-width="1.4"/>
<circle cx="502.6" cy="431.9" r="2.8" fill="none" stroke="#0b0bff" stroke-width="1.4"/>
<circle cx="504.92" cy="412.4" r="2.8" fill="none" stroke="#0b0bff" stroke-width="1.4"/>
<circle cx="507.24" cy="400.4" r="2.8" fill="none" stroke="#0b0bff" stroke-width="1.4"/>
<circle cx="509.57" cy="420.6" r="2.8" fill="none" stroke="#0b0bff" stroke-width="1.4"/>
<circle cx="511.89" cy="402.7" r="2.8" fill="none" stroke="#0b0bff" stroke-width="1.4"/>
<circle cx="514.22" cy="426.9" r="2.8" fill="none" stroke="#0b0bff" stroke-width="1.4"/>
<circle cx="516.54" cy="439.3" r="2.8" fill="none" stroke="#0b0bff" stroke-width="1.4"/>
<circle cx="518.86" cy="411.9" r="2.8" fill="none" stroke="#0b0bff" stroke-width="1.4"/>
<circle cx="521.19" cy="390.6" r="2.8" fill="none" stroke="#0b0bff" stroke-width="1.4"/>
<circle cx="523.51" cy="434.2" r="2.8" fill="none" stroke="#0b0bff" stroke-width="1.4"/>
<circle cx="525.84" cy="424.5" r="2.8" fill="none" stroke="#0b0bff" stroke-width="1.4"/>
<circle cx="528.16" cy="415.2" r="2.8" fill="none" stroke="#0b0bff" stroke-width="1.4"/>
<circle cx="530.48" cy="384.3" r="2.8" fill="none" stroke="#0b0bff" stroke-width="1.4"/>
<circle cx="532.81" cy="416.3" r="2.8" fill="none" stroke="#0b0bff" stroke-width="1.4"/>
<circle cx="535.13" cy="437" r="2.8" fill="none" stroke="#0b0bff" stroke-width="1.4"/>
<circle cx="537.46" cy="432.2" r="2.8" fill="none" stroke="#0b0bff" stroke-width="1.4"/>
<circle cx="539.78" cy="436.5" r="2.8" fill="none" stroke="#0b0bff" stroke-width="1.4"/>
<circle cx="542.1" cy="465.7" r="2.8" fill="none" stroke="#0b0bff" stroke-width="1.4"/>
<circle cx="544.43" cy="477.4" r="2.8" fill="none" stroke="#0b0bff" stroke-width="1.4"/>
<circle cx="546.75" cy="453.7" r="2.8" fill="none" stroke="#0b0bff" stroke-width="1.4"/>
<circle cx="549.08" cy="437.6" r="2.8" fill="none" stroke="#0b0bff" stroke-width="1.4"/>
<circle cx="551.4" cy="467.4" r="2.8" fill="none" stroke="#0b0bff" stroke-width="1.4"/>
<circle cx="553.72" cy="488.2" r="2.8" fill="none" stroke="#0b0bff" stroke-width="1.4"/>
<circle cx="556.05" cy="483.3" r="2.8" fill="none" stroke="#0b0bff" stroke-width="1.4"/>
<circle cx="558.37" cy="514.4" r="2.8" fill="none" stroke="#0b0bff" stroke-width="1.4"/>
<circle cx="560.7" cy="512.1" r="2.8" fill="none" stroke="#0b0bff" stroke-width="1.4"/>
<circle cx="563.02" cy="481.2" r="2.8" fill="none" stroke="#0b0bff" stroke-width="1.4"/>
<circle cx="565.34" cy="500.4" r="2.8" fill="none" stroke="#0b0bff" stroke-width="1.4"/>
<circle cx="567.67" cy="480.6" r="2.8" fill="none" stroke="#0b0bff" stroke-width="1.4"/>
<circle cx="569.99" cy="499.6" r="2.8" fill="none" stroke="#0b0bff" stroke-width="1.4"/>
<circle cx="572.32" cy="506.3" r="2.8" fill="none" stroke="#0b0bff" stroke-width="1.4"/>
<circle cx="574.64" cy="502.7" r="2.8" fill="none" stroke="#0b0bff" stroke-width="1.4"/>
<circle cx="576.96" cy="504.3" r="2.8" fill="none" stroke="#0b0bff" stroke-width="1.4"/>
<circle cx="579.29" cy="505.9" r="2.8" fill="none" stroke="#0b0bff" stroke-width="1.4"/>
<circle cx="581.61" cy="497.3" r="2.8" fill="none" stroke="#0b0bff" stroke-width="1.4"/>
<circle cx="583.94" cy="516.3" r="2.8" fill="none" stroke="#0b0bff" stroke-width="1.4"/>
<circle cx="586.26" cy="502" r="2.8" fill="none" stroke="#0b0bff" stroke-width="1.4"/>
<circle cx="588.58" cy="487.5" r="2.8" fill="none" stroke="#0b0bff" stroke-width="1.4"/>
<circle cx="590.91" cy="532.3" r="2.8" fill="none" stroke="#0b0bff" stroke-width="1.4"/>
<circle cx="593.23" cy="515.5" r="2.8" fill="none" stroke="#0b0bff" stroke-width="1.4"/>
<circle cx="595.56" cy="485.7" r="2.8" fill="none" stroke="#0b0bff" stroke-width="1.4"/>
<circle cx="597.88" cy="493.1" r="2.8" fill="none" stroke="#0b0bff" stroke-width="1.4"/>
<circle cx="600.2" cy="480.2" r="2.8" fill="none" stroke="#0b0bff" stroke-width="1.4"/>
<circle cx="602.53" cy="515.2" r="2.8" fill="none" stroke="#0b0bff" stroke-width="1.4"/>
<circle cx="604.85" cy="526.7" r="2.8" fill="none" stroke="#0b0bff" stroke-width="1.4"/>
<circle cx="607.18" cy="496" r="2.8" fill="none" stroke="#0b0bff" stroke-width="1.4"/>
<circle cx="609.5" cy="497.8" r="2.8" fill="none" stroke="#0b0bff" stroke-width="1.4"/>
<circle cx="611.82" cy="502.5" r="2.8" fill="none" stroke="#0b0bff" stroke-width="1.4"/>
<circle cx="614.15" cy="485.5" r="2.8" fill="none" stroke="#0b0bff" stroke-width="1.4"/>
<circle cx="616.47" cy="522.5" r="2.8" fill="none" stroke="#0b0bff" stroke-width="1.4"/>
<circle cx="618.8" cy="496.3" r="2.8" fill="none" stroke="#0b0bff" stroke-width="1.4"/>
<circle cx="621.12" cy="511.3" r="2.8" fill="none" stroke="#0b0bff" stroke-width="1.4"/>
<circle cx="623.44" cy="515.9" r="2.8" fill="none" stroke="#0b0bff" stroke-width="1.4"/>
<circle cx="625.77" cy="494.7" r="2.8" fill="none" stroke="#0b0bff" stroke-width="1.4"/>
<circle cx="628.09" cy="518.6" r="2.8" fill="none" stroke="#0b0bff" stroke-width="1.4"/>
<circle cx="630.42" cy="515.2" r="2.8" fill="none" stroke="#0b0bff" stroke-width="1.4"/>
<circle cx="632.74" cy="491.3" r="2.8" fill="none" stroke="#0b0bff" stroke-width="1.4"/>
<circle cx="635.06" cy="496" r="2.8" fill="none" stroke="#0b0bff" stroke-width="1.4"/>
<circle cx="637.39" cy="497.8" r="2.8" fill="none" stroke="#0b0bff" stroke-width="1.4"/>
<circle cx="639.71" cy="524.4" r="2.8" fill="none" stroke="#0b0bff" stroke-width="1.4"/>
<circle cx="642.04" cy="508.8" r="2.8" fill="none" stroke="#0b0bff" stroke-width="1.4"/>
<circle cx="644.36" cy="504.5" r="2.8" fill="none" stroke="#0b0bff" stroke-width="1.4"/>
<circle cx="646.68" cy="508.8" r="2.8" fill="none" stroke="#0b0bff" stroke-width="1.4"/>
<circle cx="649.01" cy="513.9" r="2.8" fill="none" stroke="#0b0bff" stroke-width="1.4"/>
<circle cx="651.33" cy="516.6" r="2.8" fill="none" stroke="#0b0bff" stroke-width="1.4"/>
<circle cx="653.66" cy="516.6" r="2.8" fill="none" stroke="#0b0bff" stroke-width="1.4"/>
<circle cx="655.98" cy="483.2" r="2.8" fill="none" stroke="#0b0bff" stroke-width="1.4"/>
<circle cx="658.3" cy="510.8" r="2.8" fill="none" stroke="#0b0bff" stroke-width="1.4"/>
<circle cx="660.63" cy="492.1" r="2.8" fill="none" stroke="#0b0bff" stroke-width="1.4"/>
<circle cx="662.95" cy="525.3" r="2.8" fill="none" stroke="#0b0bff" stroke-width="1.4"/>
</g>
<line x1="435.1" y1="533.2" x2="435.1" y2="359.6" stroke="#2a2a2a" stroke-width="1.8"/>
<line x1="434.2" y1="532.3" x2="686.3" y2="532.3" stroke="#2a2a2a" stroke-width="1.8"/>
<path d="M435.1 354.1 L438.8 366.2 L435.1 362.6 L431.4 366.2Z" fill="#111" stroke="#111" stroke-width="1.1" stroke-linejoin="round"/>
<path d="M691.8 532.3 L679.7 536 L683.3 532.3 L679.7 528.6Z" fill="#111" stroke="#111" stroke-width="1.1" stroke-linejoin="round"/>
<line x1="428.1" y1="390.9" x2="435.1" y2="390.9" stroke="#2a2a2a" stroke-width="1.4"/>
<line x1="431.6" y1="399.73" x2="435.1" y2="399.73" stroke="#2a2a2a" stroke-width="1.4"/>
<line x1="431.6" y1="408.56" x2="435.1" y2="408.56" stroke="#2a2a2a" stroke-width="1.4"/>
<line x1="431.6" y1="417.39" x2="435.1" y2="417.39" stroke="#2a2a2a" stroke-width="1.4"/>
<line x1="431.6" y1="426.22" x2="435.1" y2="426.22" stroke="#2a2a2a" stroke-width="1.4"/>
<line x1="428.1" y1="435.05" x2="435.1" y2="435.05" stroke="#2a2a2a" stroke-width="1.4"/>
<line x1="431.6" y1="443.88" x2="435.1" y2="443.88" stroke="#2a2a2a" stroke-width="1.4"/>
<line x1="431.6" y1="452.71" x2="435.1" y2="452.71" stroke="#2a2a2a" stroke-width="1.4"/>
<line x1="431.6" y1="461.54" x2="435.1" y2="461.54" stroke="#2a2a2a" stroke-width="1.4"/>
<line x1="431.6" y1="470.37" x2="435.1" y2="470.37" stroke="#2a2a2a" stroke-width="1.4"/>
<line x1="428.1" y1="479.2" x2="435.1" y2="479.2" stroke="#2a2a2a" stroke-width="1.4"/>
<line x1="431.6" y1="488.03" x2="435.1" y2="488.03" stroke="#2a2a2a" stroke-width="1.4"/>
<line x1="431.6" y1="496.86" x2="435.1" y2="496.86" stroke="#2a2a2a" stroke-width="1.4"/>
<line x1="431.6" y1="505.69" x2="435.1" y2="505.69" stroke="#2a2a2a" stroke-width="1.4"/>
<line x1="431.6" y1="514.52" x2="435.1" y2="514.52" stroke="#2a2a2a" stroke-width="1.4"/>
<line x1="428.1" y1="523.35" x2="435.1" y2="523.35" stroke="#2a2a2a" stroke-width="1.4"/>
<text class="sa" x="398.74" y="395.6" font-size="13.3" textLength="23.56" lengthAdjust="spacingAndGlyphs">25.7</text>
<text class="sa" x="398.74" y="439.9" font-size="13.3" textLength="23.56" lengthAdjust="spacingAndGlyphs">25.6</text>
<text class="sa" x="398.74" y="484.1" font-size="13.3" textLength="23.56" lengthAdjust="spacingAndGlyphs">25.5</text>
<text class="sa" x="398.74" y="527.9" font-size="13.3" textLength="23.56" lengthAdjust="spacingAndGlyphs">25.4</text>
<line x1="437.52" y1="532.3" x2="437.52" y2="535.9" stroke="#2a2a2a" stroke-width="1.3"/>
<line x1="442.16" y1="532.3" x2="442.16" y2="535.9" stroke="#2a2a2a" stroke-width="1.3"/>
<line x1="446.79" y1="532.3" x2="446.79" y2="535.9" stroke="#2a2a2a" stroke-width="1.3"/>
<line x1="451.43" y1="532.3" x2="451.43" y2="535.9" stroke="#2a2a2a" stroke-width="1.3"/>
<line x1="456.07" y1="532.3" x2="456.07" y2="535.9" stroke="#2a2a2a" stroke-width="1.3"/>
<line x1="460.71" y1="532.3" x2="460.71" y2="535.9" stroke="#2a2a2a" stroke-width="1.3"/>
<line x1="465.35" y1="532.3" x2="465.35" y2="535.9" stroke="#2a2a2a" stroke-width="1.3"/>
<line x1="469.99" y1="532.3" x2="469.99" y2="535.9" stroke="#2a2a2a" stroke-width="1.3"/>
<line x1="474.62" y1="532.3" x2="474.62" y2="535.9" stroke="#2a2a2a" stroke-width="1.3"/>
<line x1="479.26" y1="532.3" x2="479.26" y2="538.8" stroke="#2a2a2a" stroke-width="1.3"/>
<line x1="483.9" y1="532.3" x2="483.9" y2="535.9" stroke="#2a2a2a" stroke-width="1.3"/>
<line x1="488.54" y1="532.3" x2="488.54" y2="535.9" stroke="#2a2a2a" stroke-width="1.3"/>
<line x1="493.18" y1="532.3" x2="493.18" y2="535.9" stroke="#2a2a2a" stroke-width="1.3"/>
<line x1="497.81" y1="532.3" x2="497.81" y2="535.9" stroke="#2a2a2a" stroke-width="1.3"/>
<line x1="502.45" y1="532.3" x2="502.45" y2="535.9" stroke="#2a2a2a" stroke-width="1.3"/>
<line x1="507.09" y1="532.3" x2="507.09" y2="535.9" stroke="#2a2a2a" stroke-width="1.3"/>
<line x1="511.73" y1="532.3" x2="511.73" y2="535.9" stroke="#2a2a2a" stroke-width="1.3"/>
<line x1="516.37" y1="532.3" x2="516.37" y2="535.9" stroke="#2a2a2a" stroke-width="1.3"/>
<line x1="521" y1="532.3" x2="521" y2="535.9" stroke="#2a2a2a" stroke-width="1.3"/>
<line x1="525.64" y1="532.3" x2="525.64" y2="538.8" stroke="#2a2a2a" stroke-width="1.3"/>
<line x1="530.28" y1="532.3" x2="530.28" y2="535.9" stroke="#2a2a2a" stroke-width="1.3"/>
<line x1="534.92" y1="532.3" x2="534.92" y2="535.9" stroke="#2a2a2a" stroke-width="1.3"/>
<line x1="539.55" y1="532.3" x2="539.55" y2="535.9" stroke="#2a2a2a" stroke-width="1.3"/>
<line x1="544.19" y1="532.3" x2="544.19" y2="535.9" stroke="#2a2a2a" stroke-width="1.3"/>
<line x1="548.83" y1="532.3" x2="548.83" y2="535.9" stroke="#2a2a2a" stroke-width="1.3"/>
<line x1="553.47" y1="532.3" x2="553.47" y2="535.9" stroke="#2a2a2a" stroke-width="1.3"/>
<line x1="558.11" y1="532.3" x2="558.11" y2="535.9" stroke="#2a2a2a" stroke-width="1.3"/>
<line x1="562.75" y1="532.3" x2="562.75" y2="535.9" stroke="#2a2a2a" stroke-width="1.3"/>
<line x1="567.38" y1="532.3" x2="567.38" y2="535.9" stroke="#2a2a2a" stroke-width="1.3"/>
<line x1="572.02" y1="532.3" x2="572.02" y2="538.8" stroke="#2a2a2a" stroke-width="1.3"/>
<line x1="576.66" y1="532.3" x2="576.66" y2="535.9" stroke="#2a2a2a" stroke-width="1.3"/>
<line x1="581.3" y1="532.3" x2="581.3" y2="535.9" stroke="#2a2a2a" stroke-width="1.3"/>
<line x1="585.93" y1="532.3" x2="585.93" y2="535.9" stroke="#2a2a2a" stroke-width="1.3"/>
<line x1="590.57" y1="532.3" x2="590.57" y2="535.9" stroke="#2a2a2a" stroke-width="1.3"/>
<line x1="595.21" y1="532.3" x2="595.21" y2="535.9" stroke="#2a2a2a" stroke-width="1.3"/>
<line x1="599.85" y1="532.3" x2="599.85" y2="535.9" stroke="#2a2a2a" stroke-width="1.3"/>
<line x1="604.49" y1="532.3" x2="604.49" y2="535.9" stroke="#2a2a2a" stroke-width="1.3"/>
<line x1="609.12" y1="532.3" x2="609.12" y2="535.9" stroke="#2a2a2a" stroke-width="1.3"/>
<line x1="613.76" y1="532.3" x2="613.76" y2="535.9" stroke="#2a2a2a" stroke-width="1.3"/>
<line x1="618.4" y1="532.3" x2="618.4" y2="538.8" stroke="#2a2a2a" stroke-width="1.3"/>
<line x1="623.04" y1="532.3" x2="623.04" y2="535.9" stroke="#2a2a2a" stroke-width="1.3"/>
<line x1="627.68" y1="532.3" x2="627.68" y2="535.9" stroke="#2a2a2a" stroke-width="1.3"/>
<line x1="632.32" y1="532.3" x2="632.32" y2="535.9" stroke="#2a2a2a" stroke-width="1.3"/>
<line x1="636.95" y1="532.3" x2="636.95" y2="535.9" stroke="#2a2a2a" stroke-width="1.3"/>
<line x1="641.59" y1="532.3" x2="641.59" y2="535.9" stroke="#2a2a2a" stroke-width="1.3"/>
<line x1="646.23" y1="532.3" x2="646.23" y2="535.9" stroke="#2a2a2a" stroke-width="1.3"/>
<line x1="650.87" y1="532.3" x2="650.87" y2="535.9" stroke="#2a2a2a" stroke-width="1.3"/>
<line x1="655.5" y1="532.3" x2="655.5" y2="535.9" stroke="#2a2a2a" stroke-width="1.3"/>
<line x1="660.14" y1="532.3" x2="660.14" y2="535.9" stroke="#2a2a2a" stroke-width="1.3"/>
<text class="sa" x="464.27" y="552" font-size="12.2" textLength="30.06" lengthAdjust="spacingAndGlyphs">19.00</text>
<text class="sa" x="510.54" y="552" font-size="12.2" textLength="30.06" lengthAdjust="spacingAndGlyphs">39.00</text>
<text class="sa" x="556.81" y="552" font-size="12.2" textLength="30.76" lengthAdjust="spacingAndGlyphs">59.00</text>
<text class="sa" x="603.08" y="552" font-size="12.2" textLength="30.76" lengthAdjust="spacingAndGlyphs">79.00</text>
<text class="sa" x="410.16" y="370.5" font-size="12.6" textLength="11.48" lengthAdjust="spacingAndGlyphs">%</text>
<text class="sa" transform="translate(373.5 468) rotate(-90)" x="0" y="0" font-size="14" textLength="19" lengthAdjust="spacingAndGlyphs">Sdr</text>
<text class="se" x="669.04" y="403.9" font-size="12.6" textLength="21.26" lengthAdjust="spacingAndGlyphs">+2σ</text>
<text class="se" x="673.16" y="478.3" font-size="13" textLength="7.26" lengthAdjust="spacingAndGlyphs">μ</text>
<text class="se" x="447.4" y="345.5" font-size="18.2" textLength="134" lengthAdjust="spacingAndGlyphs">Hybrid parameter</text>
<line x1="583.3" y1="341" x2="595.3" y2="341" stroke="#1a1a1a" stroke-width="1.15"/>
<text class="se" x="597.3" y="345.5" font-size="18.2">S</text>
<text class="se" x="606.52" y="345.5" font-size="12.5" textLength="10.08" lengthAdjust="spacingAndGlyphs">dr</text>
<clipPath id="c4"><rect x="78.7" y="710.4" width="228.5" height="153.9"/></clipPath>
<line x1="122.93" y1="710.1" x2="122.93" y2="859.5" stroke="#c8c8c8" stroke-width="1.3"/>
<line x1="169.38" y1="710.1" x2="169.38" y2="859.5" stroke="#c8c8c8" stroke-width="1.3"/>
<line x1="215.83" y1="710.1" x2="215.83" y2="859.5" stroke="#c8c8c8" stroke-width="1.3"/>
<line x1="262.28" y1="710.1" x2="262.28" y2="859.5" stroke="#c8c8c8" stroke-width="1.3"/>
<line x1="78.7" y1="745.2" x2="306.4" y2="745.2" stroke="#c8c8c8" stroke-width="1.3"/>
<line x1="78.7" y1="797" x2="306.4" y2="797" stroke="#c8c8c8" stroke-width="1.3"/>
<line x1="78.7" y1="848.3" x2="306.4" y2="848.3" stroke="#c8c8c8" stroke-width="1.3"/>
<line x1="78.7" y1="801.5" x2="305.2" y2="801.5" stroke="#7b7b7b" stroke-width="1.9" stroke-dasharray="17.72 5.44"/>
<line x1="78.7" y1="754.9" x2="306.4" y2="754.9" stroke="#1e8fff" stroke-width="1.6"/>
<path d="M78.7 709.6 H306.4 V859.5" fill="none" stroke="#1a1a1a" stroke-width="1.5"/>
<g clip-path="url(#c4)">
<path d="M79 788 L81.33 764 L83.66 730.3 L85.99 747.7 L88.32 747.7 L90.66 753.2 L92.99 764.8 L95.32 759.5 L97.65 764 L99.98 736.6 L102.31 736.3 L104.64 756.7 L106.97 819.4 L109.3 764.8 L111.63 737.8 L113.97 770 L116.3 745.7 L118.63 799.5 L120.96 748.8 L123.29 741.4 L125.62 732.6 L127.95 742.8 L130.28 809.7 L132.61 764.8 L134.94 748 L137.28 744.2 L139.61 763.5 L141.94 746.1 L144.27 725.7 L146.6 737.8 L148.93 774.2 L151.26 769.7 L153.59 774.2 L155.92 798.7 L158.25 736.3 L160.58 765.8 L162.92 741.4 L165.25 737.8 L167.58 733.9 L169.91 769.7 L172.24 749.9 L174.57 804.8 L176.9 765.3 L179.23 748 L181.56 717.4 L183.89 710.4 L186.23 755.1 L188.56 786.5 L190.89 743.8 L193.22 767 L195.55 748 L197.88 750.1 L200.21 761.1 L202.54 717.7 L204.87 730.8 L207.2 762.5 L209.54 743.8 L211.87 746.9 L214.2 725.6 L216.53 759 L218.86 748 L221.19 744.4 L223.52 766.5 L225.85 737 L228.18 764.5 L230.51 732 L232.85 784.4 L235.18 765.6 L237.51 773.5 L239.84 717.1 L242.17 729.7 L244.5 773 L246.83 723.2 L249.16 755.1 L251.49 729.2 L253.82 749.6 L256.16 742.2 L258.49 722.4 L260.82 753.8 L263.15 748.5 L265.48 754.6 L267.81 748.8 L270.14 790.4 L272.47 732.3 L274.8 746 L277.13 760.9 L279.47 770 L281.8 773.1 L284.13 736.6 L286.46 746.5 L288.79 740.6 L291.12 790.1 L293.45 754.6 L295.78 750.1 L298.11 769 L300.44 760.5 L302.78 751.2 L305.11 858.6 L307.44 759" fill="none" stroke="#a9a9ff" stroke-width="0.9" stroke-linejoin="round"/>
<circle cx="79" cy="788" r="2.8" fill="none" stroke="#0b0bff" stroke-width="1.4"/>
<circle cx="81.33" cy="764" r="2.8" fill="none" stroke="#0b0bff" stroke-width="1.4"/>
<circle cx="83.66" cy="730.3" r="2.8" fill="none" stroke="#0b0bff" stroke-width="1.4"/>
<circle cx="85.99" cy="747.7" r="2.8" fill="none" stroke="#0b0bff" stroke-width="1.4"/>
<circle cx="88.32" cy="747.7" r="2.8" fill="none" stroke="#0b0bff" stroke-width="1.4"/>
<circle cx="90.66" cy="753.2" r="2.8" fill="none" stroke="#0b0bff" stroke-width="1.4"/>
<circle cx="92.99" cy="764.8" r="2.8" fill="none" stroke="#0b0bff" stroke-width="1.4"/>
<circle cx="95.32" cy="759.5" r="2.8" fill="none" stroke="#0b0bff" stroke-width="1.4"/>
<circle cx="97.65" cy="764" r="2.8" fill="none" stroke="#0b0bff" stroke-width="1.4"/>
<circle cx="99.98" cy="736.6" r="2.8" fill="none" stroke="#0b0bff" stroke-width="1.4"/>
<circle cx="102.31" cy="736.3" r="2.8" fill="none" stroke="#0b0bff" stroke-width="1.4"/>
<circle cx="104.64" cy="756.7" r="2.8" fill="none" stroke="#0b0bff" stroke-width="1.4"/>
<circle cx="106.97" cy="819.4" r="2.8" fill="none" stroke="#0b0bff" stroke-width="1.4"/>
<circle cx="109.3" cy="764.8" r="2.8" fill="none" stroke="#0b0bff" stroke-width="1.4"/>
<circle cx="111.63" cy="737.8" r="2.8" fill="none" stroke="#0b0bff" stroke-width="1.4"/>
<circle cx="113.97" cy="770" r="2.8" fill="none" stroke="#0b0bff" stroke-width="1.4"/>
<circle cx="116.3" cy="745.7" r="2.8" fill="none" stroke="#0b0bff" stroke-width="1.4"/>
<circle cx="118.63" cy="799.5" r="2.8" fill="none" stroke="#0b0bff" stroke-width="1.4"/>
<circle cx="120.96" cy="748.8" r="2.8" fill="none" stroke="#0b0bff" stroke-width="1.4"/>
<circle cx="123.29" cy="741.4" r="2.8" fill="none" stroke="#0b0bff" stroke-width="1.4"/>
<circle cx="125.62" cy="732.6" r="2.8" fill="none" stroke="#0b0bff" stroke-width="1.4"/>
<circle cx="127.95" cy="742.8" r="2.8" fill="none" stroke="#0b0bff" stroke-width="1.4"/>
<circle cx="130.28" cy="809.7" r="2.8" fill="none" stroke="#0b0bff" stroke-width="1.4"/>
<circle cx="132.61" cy="764.8" r="2.8" fill="none" stroke="#0b0bff" stroke-width="1.4"/>
<circle cx="134.94" cy="748" r="2.8" fill="none" stroke="#0b0bff" stroke-width="1.4"/>
<circle cx="137.28" cy="744.2" r="2.8" fill="none" stroke="#0b0bff" stroke-width="1.4"/>
<circle cx="139.61" cy="763.5" r="2.8" fill="none" stroke="#0b0bff" stroke-width="1.4"/>
<circle cx="141.94" cy="746.1" r="2.8" fill="none" stroke="#0b0bff" stroke-width="1.4"/>
<circle cx="144.27" cy="725.7" r="2.8" fill="none" stroke="#0b0bff" stroke-width="1.4"/>
<circle cx="146.6" cy="737.8" r="2.8" fill="none" stroke="#0b0bff" stroke-width="1.4"/>
<circle cx="148.93" cy="774.2" r="2.8" fill="none" stroke="#0b0bff" stroke-width="1.4"/>
<circle cx="151.26" cy="769.7" r="2.8" fill="none" stroke="#0b0bff" stroke-width="1.4"/>
<circle cx="153.59" cy="774.2" r="2.8" fill="none" stroke="#0b0bff" stroke-width="1.4"/>
<circle cx="155.92" cy="798.7" r="2.8" fill="none" stroke="#0b0bff" stroke-width="1.4"/>
<circle cx="158.25" cy="736.3" r="2.8" fill="none" stroke="#0b0bff" stroke-width="1.4"/>
<circle cx="160.58" cy="765.8" r="2.8" fill="none" stroke="#0b0bff" stroke-width="1.4"/>
<circle cx="162.92" cy="741.4" r="2.8" fill="none" stroke="#0b0bff" stroke-width="1.4"/>
<circle cx="165.25" cy="737.8" r="2.8" fill="none" stroke="#0b0bff" stroke-width="1.4"/>
<circle cx="167.58" cy="733.9" r="2.8" fill="none" stroke="#0b0bff" stroke-width="1.4"/>
<circle cx="169.91" cy="769.7" r="2.8" fill="none" stroke="#0b0bff" stroke-width="1.4"/>
<circle cx="172.24" cy="749.9" r="2.8" fill="none" stroke="#0b0bff" stroke-width="1.4"/>
<circle cx="174.57" cy="804.8" r="2.8" fill="none" stroke="#0b0bff" stroke-width="1.4"/>
<circle cx="176.9" cy="765.3" r="2.8" fill="none" stroke="#0b0bff" stroke-width="1.4"/>
<circle cx="179.23" cy="748" r="2.8" fill="none" stroke="#0b0bff" stroke-width="1.4"/>
<circle cx="181.56" cy="717.4" r="2.8" fill="none" stroke="#0b0bff" stroke-width="1.4"/>
<circle cx="183.89" cy="710.4" r="2.8" fill="none" stroke="#0b0bff" stroke-width="1.4"/>
<circle cx="186.23" cy="755.1" r="2.8" fill="none" stroke="#0b0bff" stroke-width="1.4"/>
<circle cx="188.56" cy="786.5" r="2.8" fill="none" stroke="#0b0bff" stroke-width="1.4"/>
<circle cx="190.89" cy="743.8" r="2.8" fill="none" stroke="#0b0bff" stroke-width="1.4"/>
<circle cx="193.22" cy="767" r="2.8" fill="none" stroke="#0b0bff" stroke-width="1.4"/>
<circle cx="195.55" cy="748" r="2.8" fill="none" stroke="#0b0bff" stroke-width="1.4"/>
<circle cx="197.88" cy="750.1" r="2.8" fill="none" stroke="#0b0bff" stroke-width="1.4"/>
<circle cx="200.21" cy="761.1" r="2.8" fill="none" stroke="#0b0bff" stroke-width="1.4"/>
<circle cx="202.54" cy="717.7" r="2.8" fill="none" stroke="#0b0bff" stroke-width="1.4"/>
<circle cx="204.87" cy="730.8" r="2.8" fill="none" stroke="#0b0bff" stroke-width="1.4"/>
<circle cx="207.2" cy="762.5" r="2.8" fill="none" stroke="#0b0bff" stroke-width="1.4"/>
<circle cx="209.54" cy="743.8" r="2.8" fill="none" stroke="#0b0bff" stroke-width="1.4"/>
<circle cx="211.87" cy="746.9" r="2.8" fill="none" stroke="#0b0bff" stroke-width="1.4"/>
<circle cx="214.2" cy="725.6" r="2.8" fill="none" stroke="#0b0bff" stroke-width="1.4"/>
<circle cx="216.53" cy="759" r="2.8" fill="none" stroke="#0b0bff" stroke-width="1.4"/>
<circle cx="218.86" cy="748" r="2.8" fill="none" stroke="#0b0bff" stroke-width="1.4"/>
<circle cx="221.19" cy="744.4" r="2.8" fill="none" stroke="#0b0bff" stroke-width="1.4"/>
<circle cx="223.52" cy="766.5" r="2.8" fill="none" stroke="#0b0bff" stroke-width="1.4"/>
<circle cx="225.85" cy="737" r="2.8" fill="none" stroke="#0b0bff" stroke-width="1.4"/>
<circle cx="228.18" cy="764.5" r="2.8" fill="none" stroke="#0b0bff" stroke-width="1.4"/>
<circle cx="230.51" cy="732" r="2.8" fill="none" stroke="#0b0bff" stroke-width="1.4"/>
<circle cx="232.85" cy="784.4" r="2.8" fill="none" stroke="#0b0bff" stroke-width="1.4"/>
<circle cx="235.18" cy="765.6" r="2.8" fill="none" stroke="#0b0bff" stroke-width="1.4"/>
<circle cx="237.51" cy="773.5" r="2.8" fill="none" stroke="#0b0bff" stroke-width="1.4"/>
<circle cx="239.84" cy="717.1" r="2.8" fill="none" stroke="#0b0bff" stroke-width="1.4"/>
<circle cx="242.17" cy="729.7" r="2.8" fill="none" stroke="#0b0bff" stroke-width="1.4"/>
<circle cx="244.5" cy="773" r="2.8" fill="none" stroke="#0b0bff" stroke-width="1.4"/>
<circle cx="246.83" cy="723.2" r="2.8" fill="none" stroke="#0b0bff" stroke-width="1.4"/>
<circle cx="249.16" cy="755.1" r="2.8" fill="none" stroke="#0b0bff" stroke-width="1.4"/>
<circle cx="251.49" cy="729.2" r="2.8" fill="none" stroke="#0b0bff" stroke-width="1.4"/>
<circle cx="253.82" cy="749.6" r="2.8" fill="none" stroke="#0b0bff" stroke-width="1.4"/>
<circle cx="256.16" cy="742.2" r="2.8" fill="none" stroke="#0b0bff" stroke-width="1.4"/>
<circle cx="258.49" cy="722.4" r="2.8" fill="none" stroke="#0b0bff" stroke-width="1.4"/>
<circle cx="260.82" cy="753.8" r="2.8" fill="none" stroke="#0b0bff" stroke-width="1.4"/>
<circle cx="263.15" cy="748.5" r="2.8" fill="none" stroke="#0b0bff" stroke-width="1.4"/>
<circle cx="265.48" cy="754.6" r="2.8" fill="none" stroke="#0b0bff" stroke-width="1.4"/>
<circle cx="267.81" cy="748.8" r="2.8" fill="none" stroke="#0b0bff" stroke-width="1.4"/>
<circle cx="270.14" cy="790.4" r="2.8" fill="none" stroke="#0b0bff" stroke-width="1.4"/>
<circle cx="272.47" cy="732.3" r="2.8" fill="none" stroke="#0b0bff" stroke-width="1.4"/>
<circle cx="274.8" cy="746" r="2.8" fill="none" stroke="#0b0bff" stroke-width="1.4"/>
<circle cx="277.13" cy="760.9" r="2.8" fill="none" stroke="#0b0bff" stroke-width="1.4"/>
<circle cx="279.47" cy="770" r="2.8" fill="none" stroke="#0b0bff" stroke-width="1.4"/>
<circle cx="281.8" cy="773.1" r="2.8" fill="none" stroke="#0b0bff" stroke-width="1.4"/>
<circle cx="284.13" cy="736.6" r="2.8" fill="none" stroke="#0b0bff" stroke-width="1.4"/>
<circle cx="286.46" cy="746.5" r="2.8" fill="none" stroke="#0b0bff" stroke-width="1.4"/>
<circle cx="288.79" cy="740.6" r="2.8" fill="none" stroke="#0b0bff" stroke-width="1.4"/>
<circle cx="291.12" cy="790.1" r="2.8" fill="none" stroke="#0b0bff" stroke-width="1.4"/>
<circle cx="293.45" cy="754.6" r="2.8" fill="none" stroke="#0b0bff" stroke-width="1.4"/>
<circle cx="295.78" cy="750.1" r="2.8" fill="none" stroke="#0b0bff" stroke-width="1.4"/>
<circle cx="298.11" cy="769" r="2.8" fill="none" stroke="#0b0bff" stroke-width="1.4"/>
<circle cx="300.44" cy="760.5" r="2.8" fill="none" stroke="#0b0bff" stroke-width="1.4"/>
<circle cx="302.78" cy="751.2" r="2.8" fill="none" stroke="#0b0bff" stroke-width="1.4"/>
<circle cx="305.11" cy="858.6" r="2.8" fill="none" stroke="#0b0bff" stroke-width="1.4"/>
<circle cx="307.44" cy="759" r="2.8" fill="none" stroke="#0b0bff" stroke-width="1.4"/>
</g>
<line x1="78.7" y1="860.4" x2="78.7" y2="685.3" stroke="#2a2a2a" stroke-width="1.8"/>
<line x1="77.8" y1="859.5" x2="331" y2="859.5" stroke="#2a2a2a" stroke-width="1.8"/>
<path d="M78.7 679.8 L82.4 691.9 L78.7 688.3 L75 691.9Z" fill="#111" stroke="#111" stroke-width="1.1" stroke-linejoin="round"/>
<path d="M336.5 859.5 L324.4 863.2 L328 859.5 L324.4 855.8Z" fill="#111" stroke="#111" stroke-width="1.1" stroke-linejoin="round"/>
<line x1="75.1" y1="714.3" x2="78.7" y2="714.3" stroke="#2a2a2a" stroke-width="1.4"/>
<line x1="75.1" y1="724.6" x2="78.7" y2="724.6" stroke="#2a2a2a" stroke-width="1.4"/>
<line x1="75.1" y1="734.9" x2="78.7" y2="734.9" stroke="#2a2a2a" stroke-width="1.4"/>
<line x1="71.7" y1="745.2" x2="78.7" y2="745.2" stroke="#2a2a2a" stroke-width="1.4"/>
<line x1="75.1" y1="755.5" x2="78.7" y2="755.5" stroke="#2a2a2a" stroke-width="1.4"/>
<line x1="75.1" y1="765.8" x2="78.7" y2="765.8" stroke="#2a2a2a" stroke-width="1.4"/>
<line x1="75.1" y1="776.1" x2="78.7" y2="776.1" stroke="#2a2a2a" stroke-width="1.4"/>
<line x1="75.1" y1="786.4" x2="78.7" y2="786.4" stroke="#2a2a2a" stroke-width="1.4"/>
<line x1="71.7" y1="796.7" x2="78.7" y2="796.7" stroke="#2a2a2a" stroke-width="1.4"/>
<line x1="75.1" y1="807" x2="78.7" y2="807" stroke="#2a2a2a" stroke-width="1.4"/>
<line x1="75.1" y1="817.3" x2="78.7" y2="817.3" stroke="#2a2a2a" stroke-width="1.4"/>
<line x1="75.1" y1="827.6" x2="78.7" y2="827.6" stroke="#2a2a2a" stroke-width="1.4"/>
<line x1="75.1" y1="837.9" x2="78.7" y2="837.9" stroke="#2a2a2a" stroke-width="1.4"/>
<line x1="71.7" y1="848.2" x2="78.7" y2="848.2" stroke="#2a2a2a" stroke-width="1.4"/>
<line x1="75.1" y1="858.5" x2="78.7" y2="858.5" stroke="#2a2a2a" stroke-width="1.4"/>
<text class="sa" x="35.16" y="749.9" font-size="13.3" textLength="30.6" lengthAdjust="spacingAndGlyphs">0.050</text>
<text class="sa" x="35.16" y="801.7" font-size="13.3" textLength="30.6" lengthAdjust="spacingAndGlyphs">0.045</text>
<text class="sa" x="35.16" y="853" font-size="13.3" textLength="30.6" lengthAdjust="spacingAndGlyphs">0.040</text>
<line x1="81.12" y1="859.5" x2="81.12" y2="863.1" stroke="#2a2a2a" stroke-width="1.3"/>
<line x1="85.77" y1="859.5" x2="85.77" y2="863.1" stroke="#2a2a2a" stroke-width="1.3"/>
<line x1="90.41" y1="859.5" x2="90.41" y2="863.1" stroke="#2a2a2a" stroke-width="1.3"/>
<line x1="95.06" y1="859.5" x2="95.06" y2="863.1" stroke="#2a2a2a" stroke-width="1.3"/>
<line x1="99.7" y1="859.5" x2="99.7" y2="863.1" stroke="#2a2a2a" stroke-width="1.3"/>
<line x1="104.35" y1="859.5" x2="104.35" y2="863.1" stroke="#2a2a2a" stroke-width="1.3"/>
<line x1="108.99" y1="859.5" x2="108.99" y2="863.1" stroke="#2a2a2a" stroke-width="1.3"/>
<line x1="113.64" y1="859.5" x2="113.64" y2="863.1" stroke="#2a2a2a" stroke-width="1.3"/>
<line x1="118.28" y1="859.5" x2="118.28" y2="863.1" stroke="#2a2a2a" stroke-width="1.3"/>
<line x1="122.93" y1="859.5" x2="122.93" y2="866" stroke="#2a2a2a" stroke-width="1.3"/>
<line x1="127.57" y1="859.5" x2="127.57" y2="863.1" stroke="#2a2a2a" stroke-width="1.3"/>
<line x1="132.22" y1="859.5" x2="132.22" y2="863.1" stroke="#2a2a2a" stroke-width="1.3"/>
<line x1="136.86" y1="859.5" x2="136.86" y2="863.1" stroke="#2a2a2a" stroke-width="1.3"/>
<line x1="141.51" y1="859.5" x2="141.51" y2="863.1" stroke="#2a2a2a" stroke-width="1.3"/>
<line x1="146.15" y1="859.5" x2="146.15" y2="863.1" stroke="#2a2a2a" stroke-width="1.3"/>
<line x1="150.8" y1="859.5" x2="150.8" y2="863.1" stroke="#2a2a2a" stroke-width="1.3"/>
<line x1="155.44" y1="859.5" x2="155.44" y2="863.1" stroke="#2a2a2a" stroke-width="1.3"/>
<line x1="160.09" y1="859.5" x2="160.09" y2="863.1" stroke="#2a2a2a" stroke-width="1.3"/>
<line x1="164.73" y1="859.5" x2="164.73" y2="863.1" stroke="#2a2a2a" stroke-width="1.3"/>
<line x1="169.38" y1="859.5" x2="169.38" y2="866" stroke="#2a2a2a" stroke-width="1.3"/>
<line x1="174.02" y1="859.5" x2="174.02" y2="863.1" stroke="#2a2a2a" stroke-width="1.3"/>
<line x1="178.67" y1="859.5" x2="178.67" y2="863.1" stroke="#2a2a2a" stroke-width="1.3"/>
<line x1="183.31" y1="859.5" x2="183.31" y2="863.1" stroke="#2a2a2a" stroke-width="1.3"/>
<line x1="187.96" y1="859.5" x2="187.96" y2="863.1" stroke="#2a2a2a" stroke-width="1.3"/>
<line x1="192.6" y1="859.5" x2="192.6" y2="863.1" stroke="#2a2a2a" stroke-width="1.3"/>
<line x1="197.25" y1="859.5" x2="197.25" y2="863.1" stroke="#2a2a2a" stroke-width="1.3"/>
<line x1="201.89" y1="859.5" x2="201.89" y2="863.1" stroke="#2a2a2a" stroke-width="1.3"/>
<line x1="206.54" y1="859.5" x2="206.54" y2="863.1" stroke="#2a2a2a" stroke-width="1.3"/>
<line x1="211.18" y1="859.5" x2="211.18" y2="863.1" stroke="#2a2a2a" stroke-width="1.3"/>
<line x1="215.83" y1="859.5" x2="215.83" y2="866" stroke="#2a2a2a" stroke-width="1.3"/>
<line x1="220.47" y1="859.5" x2="220.47" y2="863.1" stroke="#2a2a2a" stroke-width="1.3"/>
<line x1="225.12" y1="859.5" x2="225.12" y2="863.1" stroke="#2a2a2a" stroke-width="1.3"/>
<line x1="229.76" y1="859.5" x2="229.76" y2="863.1" stroke="#2a2a2a" stroke-width="1.3"/>
<line x1="234.41" y1="859.5" x2="234.41" y2="863.1" stroke="#2a2a2a" stroke-width="1.3"/>
<line x1="239.05" y1="859.5" x2="239.05" y2="863.1" stroke="#2a2a2a" stroke-width="1.3"/>
<line x1="243.7" y1="859.5" x2="243.7" y2="863.1" stroke="#2a2a2a" stroke-width="1.3"/>
<line x1="248.34" y1="859.5" x2="248.34" y2="863.1" stroke="#2a2a2a" stroke-width="1.3"/>
<line x1="252.99" y1="859.5" x2="252.99" y2="863.1" stroke="#2a2a2a" stroke-width="1.3"/>
<line x1="257.63" y1="859.5" x2="257.63" y2="863.1" stroke="#2a2a2a" stroke-width="1.3"/>
<line x1="262.28" y1="859.5" x2="262.28" y2="866" stroke="#2a2a2a" stroke-width="1.3"/>
<line x1="266.92" y1="859.5" x2="266.92" y2="863.1" stroke="#2a2a2a" stroke-width="1.3"/>
<line x1="271.57" y1="859.5" x2="271.57" y2="863.1" stroke="#2a2a2a" stroke-width="1.3"/>
<line x1="276.21" y1="859.5" x2="276.21" y2="863.1" stroke="#2a2a2a" stroke-width="1.3"/>
<line x1="280.86" y1="859.5" x2="280.86" y2="863.1" stroke="#2a2a2a" stroke-width="1.3"/>
<line x1="285.5" y1="859.5" x2="285.5" y2="863.1" stroke="#2a2a2a" stroke-width="1.3"/>
<line x1="290.15" y1="859.5" x2="290.15" y2="863.1" stroke="#2a2a2a" stroke-width="1.3"/>
<line x1="294.79" y1="859.5" x2="294.79" y2="863.1" stroke="#2a2a2a" stroke-width="1.3"/>
<line x1="299.44" y1="859.5" x2="299.44" y2="863.1" stroke="#2a2a2a" stroke-width="1.3"/>
<line x1="304.08" y1="859.5" x2="304.08" y2="863.1" stroke="#2a2a2a" stroke-width="1.3"/>
<text class="sa" x="107.93" y="879.2" font-size="12.2" textLength="30.06" lengthAdjust="spacingAndGlyphs">19.00</text>
<text class="sa" x="154.45" y="879.2" font-size="12.2" textLength="30.06" lengthAdjust="spacingAndGlyphs">39.00</text>
<text class="sa" x="200.97" y="879.2" font-size="12.2" textLength="30.06" lengthAdjust="spacingAndGlyphs">59.00</text>
<text class="sa" x="247.49" y="879.2" font-size="12.2" textLength="30.06" lengthAdjust="spacingAndGlyphs">79.00</text>
<text class="sa" x="31.58" y="696.5" font-size="12.6" textLength="34.18" lengthAdjust="spacingAndGlyphs">1/μm²</text>
<text class="sa" transform="translate(16.2 795.7) rotate(-90)" x="0" y="0" font-size="14" textLength="21" lengthAdjust="spacingAndGlyphs">Spd</text>
<text class="se" x="317.66" y="762.5" font-size="13" textLength="7.26" lengthAdjust="spacingAndGlyphs">μ</text>
<text class="se" x="313.54" y="808.2" font-size="12.6" textLength="21.26" lengthAdjust="spacingAndGlyphs">−2σ</text>
<text class="se" x="91.4" y="671.4" font-size="18.2" textLength="133.8" lengthAdjust="spacingAndGlyphs">Feature parameter</text>
<line x1="229.1" y1="667" x2="241.1" y2="667" stroke="#1a1a1a" stroke-width="1.15"/>
<text class="se" x="242.7" y="671.4" font-size="18.2">S</text>
<text class="se" x="252.54" y="671.4" font-size="12.5" textLength="10.9" lengthAdjust="spacingAndGlyphs">pd</text>
<clipPath id="c5"><rect x="433" y="709.9" width="227.2" height="152.8"/></clipPath>
<line x1="476.84" y1="709.6" x2="476.84" y2="857.9" stroke="#c8c8c8" stroke-width="1.3"/>
<line x1="523.2" y1="709.6" x2="523.2" y2="857.9" stroke="#c8c8c8" stroke-width="1.3"/>
<line x1="569.56" y1="709.6" x2="569.56" y2="857.9" stroke="#c8c8c8" stroke-width="1.3"/>
<line x1="615.92" y1="709.6" x2="615.92" y2="857.9" stroke="#c8c8c8" stroke-width="1.3"/>
<line x1="433" y1="750.3" x2="659.4" y2="750.3" stroke="#c8c8c8" stroke-width="1.3"/>
<line x1="433" y1="849.3" x2="659.4" y2="849.3" stroke="#c8c8c8" stroke-width="1.3"/>
<line x1="433" y1="777.3" x2="658.2" y2="777.3" stroke="#7b7b7b" stroke-width="1.9" stroke-dasharray="17.62 5.41"/>
<line x1="433" y1="817.7" x2="659.4" y2="817.7" stroke="#1e8fff" stroke-width="1.6"/>
<path d="M433 709.1 H659.4 V857.9" fill="none" stroke="#1a1a1a" stroke-width="1.5"/>
<g clip-path="url(#c5)">
<path d="M432.8 810.6 L435.13 829.3 L437.45 848 L439.78 838.3 L442.1 829.3 L444.43 823.1 L446.76 814.5 L449.08 809 L451.41 813.4 L453.73 835.5 L456.06 832.4 L458.39 823.1 L460.71 766.7 L463.04 806.7 L465.36 820.7 L467.69 805.9 L470.02 817.9 L472.34 787.7 L474.67 820.7 L476.99 834.7 L479.32 838.3 L481.65 821.2 L483.97 776.7 L486.3 814.2 L488.62 829.8 L490.95 817.9 L493.28 822.8 L495.6 830.1 L497.93 837.9 L500.25 828.2 L502.58 802 L504.91 804.8 L507.23 803.3 L509.56 777.1 L511.88 838.6 L514.21 806.2 L516.54 826.2 L518.86 820.7 L521.19 834 L523.51 808.3 L525.84 823.5 L528.17 768.2 L530.49 812.6 L532.82 827 L535.14 855 L537.47 857.3 L539.8 820.4 L542.12 805.3 L544.45 827.4 L546.77 812.5 L549.1 826.5 L551.43 831.9 L553.75 816.1 L556.08 850.6 L558.4 836 L560.73 818.4 L563.06 833.7 L565.38 822.3 L567.71 839.7 L570.03 817.9 L572.36 821.2 L574.69 831.2 L577.01 818 L579.34 835.1 L581.66 809 L583.99 838.3 L586.32 787.7 L588.64 817.3 L590.97 804.8 L593.29 841.4 L595.62 827.8 L597.95 792.4 L600.27 843.7 L602.6 815 L604.92 826 L607.25 817.1 L609.58 822.5 L611.9 832.2 L614.23 817.8 L616.55 817.1 L618.88 814.2 L621.21 821.4 L623.53 784.6 L625.86 835.8 L628.18 825.6 L630.51 810.3 L632.84 798 L635.16 799.1 L637.49 829.1 L639.81 819.1 L642.14 826.4 L644.47 796 L646.79 816.3 L649.12 812.4 L651.44 807.4 L653.77 803 L656.1 810.8 L658.42 709.3 L660.75 810.8" fill="none" stroke="#a9a9ff" stroke-width="0.9" stroke-linejoin="round"/>
<circle cx="432.8" cy="810.6" r="2.8" fill="none" stroke="#0b0bff" stroke-width="1.4"/>
<circle cx="435.13" cy="829.3" r="2.8" fill="none" stroke="#0b0bff" stroke-width="1.4"/>
<circle cx="437.45" cy="848" r="2.8" fill="none" stroke="#0b0bff" stroke-width="1.4"/>
<circle cx="439.78" cy="838.3" r="2.8" fill="none" stroke="#0b0bff" stroke-width="1.4"/>
<circle cx="442.1" cy="829.3" r="2.8" fill="none" stroke="#0b0bff" stroke-width="1.4"/>
<circle cx="444.43" cy="823.1" r="2.8" fill="none" stroke="#0b0bff" stroke-width="1.4"/>
<circle cx="446.76" cy="814.5" r="2.8" fill="none" stroke="#0b0bff" stroke-width="1.4"/>
<circle cx="449.08" cy="809" r="2.8" fill="none" stroke="#0b0bff" stroke-width="1.4"/>
<circle cx="451.41" cy="813.4" r="2.8" fill="none" stroke="#0b0bff" stroke-width="1.4"/>
<circle cx="453.73" cy="835.5" r="2.8" fill="none" stroke="#0b0bff" stroke-width="1.4"/>
<circle cx="456.06" cy="832.4" r="2.8" fill="none" stroke="#0b0bff" stroke-width="1.4"/>
<circle cx="458.39" cy="823.1" r="2.8" fill="none" stroke="#0b0bff" stroke-width="1.4"/>
<circle cx="460.71" cy="766.7" r="2.8" fill="none" stroke="#0b0bff" stroke-width="1.4"/>
<circle cx="463.04" cy="806.7" r="2.8" fill="none" stroke="#0b0bff" stroke-width="1.4"/>
<circle cx="465.36" cy="820.7" r="2.8" fill="none" stroke="#0b0bff" stroke-width="1.4"/>
<circle cx="467.69" cy="805.9" r="2.8" fill="none" stroke="#0b0bff" stroke-width="1.4"/>
<circle cx="470.02" cy="817.9" r="2.8" fill="none" stroke="#0b0bff" stroke-width="1.4"/>
<circle cx="472.34" cy="787.7" r="2.8" fill="none" stroke="#0b0bff" stroke-width="1.4"/>
<circle cx="474.67" cy="820.7" r="2.8" fill="none" stroke="#0b0bff" stroke-width="1.4"/>
<circle cx="476.99" cy="834.7" r="2.8" fill="none" stroke="#0b0bff" stroke-width="1.4"/>
<circle cx="479.32" cy="838.3" r="2.8" fill="none" stroke="#0b0bff" stroke-width="1.4"/>
<circle cx="481.65" cy="821.2" r="2.8" fill="none" stroke="#0b0bff" stroke-width="1.4"/>
<circle cx="483.97" cy="776.7" r="2.8" fill="none" stroke="#0b0bff" stroke-width="1.4"/>
<circle cx="486.3" cy="814.2" r="2.8" fill="none" stroke="#0b0bff" stroke-width="1.4"/>
<circle cx="488.62" cy="829.8" r="2.8" fill="none" stroke="#0b0bff" stroke-width="1.4"/>
<circle cx="490.95" cy="817.9" r="2.8" fill="none" stroke="#0b0bff" stroke-width="1.4"/>
<circle cx="493.28" cy="822.8" r="2.8" fill="none" stroke="#0b0bff" stroke-width="1.4"/>
<circle cx="495.6" cy="830.1" r="2.8" fill="none" stroke="#0b0bff" stroke-width="1.4"/>
<circle cx="497.93" cy="837.9" r="2.8" fill="none" stroke="#0b0bff" stroke-width="1.4"/>
<circle cx="500.25" cy="828.2" r="2.8" fill="none" stroke="#0b0bff" stroke-width="1.4"/>
<circle cx="502.58" cy="802" r="2.8" fill="none" stroke="#0b0bff" stroke-width="1.4"/>
<circle cx="504.91" cy="804.8" r="2.8" fill="none" stroke="#0b0bff" stroke-width="1.4"/>
<circle cx="507.23" cy="803.3" r="2.8" fill="none" stroke="#0b0bff" stroke-width="1.4"/>
<circle cx="509.56" cy="777.1" r="2.8" fill="none" stroke="#0b0bff" stroke-width="1.4"/>
<circle cx="511.88" cy="838.6" r="2.8" fill="none" stroke="#0b0bff" stroke-width="1.4"/>
<circle cx="514.21" cy="806.2" r="2.8" fill="none" stroke="#0b0bff" stroke-width="1.4"/>
<circle cx="516.54" cy="826.2" r="2.8" fill="none" stroke="#0b0bff" stroke-width="1.4"/>
<circle cx="518.86" cy="820.7" r="2.8" fill="none" stroke="#0b0bff" stroke-width="1.4"/>
<circle cx="521.19" cy="834" r="2.8" fill="none" stroke="#0b0bff" stroke-width="1.4"/>
<circle cx="523.51" cy="808.3" r="2.8" fill="none" stroke="#0b0bff" stroke-width="1.4"/>
<circle cx="525.84" cy="823.5" r="2.8" fill="none" stroke="#0b0bff" stroke-width="1.4"/>
<circle cx="528.17" cy="768.2" r="2.8" fill="none" stroke="#0b0bff" stroke-width="1.4"/>
<circle cx="530.49" cy="812.6" r="2.8" fill="none" stroke="#0b0bff" stroke-width="1.4"/>
<circle cx="532.82" cy="827" r="2.8" fill="none" stroke="#0b0bff" stroke-width="1.4"/>
<circle cx="535.14" cy="855" r="2.8" fill="none" stroke="#0b0bff" stroke-width="1.4"/>
<circle cx="537.47" cy="857.3" r="2.8" fill="none" stroke="#0b0bff" stroke-width="1.4"/>
<circle cx="539.8" cy="820.4" r="2.8" fill="none" stroke="#0b0bff" stroke-width="1.4"/>
<circle cx="542.12" cy="805.3" r="2.8" fill="none" stroke="#0b0bff" stroke-width="1.4"/>
<circle cx="544.45" cy="827.4" r="2.8" fill="none" stroke="#0b0bff" stroke-width="1.4"/>
<circle cx="546.77" cy="812.5" r="2.8" fill="none" stroke="#0b0bff" stroke-width="1.4"/>
<circle cx="549.1" cy="826.5" r="2.8" fill="none" stroke="#0b0bff" stroke-width="1.4"/>
<circle cx="551.43" cy="831.9" r="2.8" fill="none" stroke="#0b0bff" stroke-width="1.4"/>
<circle cx="553.75" cy="816.1" r="2.8" fill="none" stroke="#0b0bff" stroke-width="1.4"/>
<circle cx="556.08" cy="850.6" r="2.8" fill="none" stroke="#0b0bff" stroke-width="1.4"/>
<circle cx="558.4" cy="836" r="2.8" fill="none" stroke="#0b0bff" stroke-width="1.4"/>
<circle cx="560.73" cy="818.4" r="2.8" fill="none" stroke="#0b0bff" stroke-width="1.4"/>
<circle cx="563.06" cy="833.7" r="2.8" fill="none" stroke="#0b0bff" stroke-width="1.4"/>
<circle cx="565.38" cy="822.3" r="2.8" fill="none" stroke="#0b0bff" stroke-width="1.4"/>
<circle cx="567.71" cy="839.7" r="2.8" fill="none" stroke="#0b0bff" stroke-width="1.4"/>
<circle cx="570.03" cy="817.9" r="2.8" fill="none" stroke="#0b0bff" stroke-width="1.4"/>
<circle cx="572.36" cy="821.2" r="2.8" fill="none" stroke="#0b0bff" stroke-width="1.4"/>
<circle cx="574.69" cy="831.2" r="2.8" fill="none" stroke="#0b0bff" stroke-width="1.4"/>
<circle cx="577.01" cy="818" r="2.8" fill="none" stroke="#0b0bff" stroke-width="1.4"/>
<circle cx="579.34" cy="835.1" r="2.8" fill="none" stroke="#0b0bff" stroke-width="1.4"/>
<circle cx="581.66" cy="809" r="2.8" fill="none" stroke="#0b0bff" stroke-width="1.4"/>
<circle cx="583.99" cy="838.3" r="2.8" fill="none" stroke="#0b0bff" stroke-width="1.4"/>
<circle cx="586.32" cy="787.7" r="2.8" fill="none" stroke="#0b0bff" stroke-width="1.4"/>
<circle cx="588.64" cy="817.3" r="2.8" fill="none" stroke="#0b0bff" stroke-width="1.4"/>
<circle cx="590.97" cy="804.8" r="2.8" fill="none" stroke="#0b0bff" stroke-width="1.4"/>
<circle cx="593.29" cy="841.4" r="2.8" fill="none" stroke="#0b0bff" stroke-width="1.4"/>
<circle cx="595.62" cy="827.8" r="2.8" fill="none" stroke="#0b0bff" stroke-width="1.4"/>
<circle cx="597.95" cy="792.4" r="2.8" fill="none" stroke="#0b0bff" stroke-width="1.4"/>
<circle cx="600.27" cy="843.7" r="2.8" fill="none" stroke="#0b0bff" stroke-width="1.4"/>
<circle cx="602.6" cy="815" r="2.8" fill="none" stroke="#0b0bff" stroke-width="1.4"/>
<circle cx="604.92" cy="826" r="2.8" fill="none" stroke="#0b0bff" stroke-width="1.4"/>
<circle cx="607.25" cy="817.1" r="2.8" fill="none" stroke="#0b0bff" stroke-width="1.4"/>
<circle cx="609.58" cy="822.5" r="2.8" fill="none" stroke="#0b0bff" stroke-width="1.4"/>
<circle cx="611.9" cy="832.2" r="2.8" fill="none" stroke="#0b0bff" stroke-width="1.4"/>
<circle cx="614.23" cy="817.8" r="2.8" fill="none" stroke="#0b0bff" stroke-width="1.4"/>
<circle cx="616.55" cy="817.1" r="2.8" fill="none" stroke="#0b0bff" stroke-width="1.4"/>
<circle cx="618.88" cy="814.2" r="2.8" fill="none" stroke="#0b0bff" stroke-width="1.4"/>
<circle cx="621.21" cy="821.4" r="2.8" fill="none" stroke="#0b0bff" stroke-width="1.4"/>
<circle cx="623.53" cy="784.6" r="2.8" fill="none" stroke="#0b0bff" stroke-width="1.4"/>
<circle cx="625.86" cy="835.8" r="2.8" fill="none" stroke="#0b0bff" stroke-width="1.4"/>
<circle cx="628.18" cy="825.6" r="2.8" fill="none" stroke="#0b0bff" stroke-width="1.4"/>
<circle cx="630.51" cy="810.3" r="2.8" fill="none" stroke="#0b0bff" stroke-width="1.4"/>
<circle cx="632.84" cy="798" r="2.8" fill="none" stroke="#0b0bff" stroke-width="1.4"/>
<circle cx="635.16" cy="799.1" r="2.8" fill="none" stroke="#0b0bff" stroke-width="1.4"/>
<circle cx="637.49" cy="829.1" r="2.8" fill="none" stroke="#0b0bff" stroke-width="1.4"/>
<circle cx="639.81" cy="819.1" r="2.8" fill="none" stroke="#0b0bff" stroke-width="1.4"/>
<circle cx="642.14" cy="826.4" r="2.8" fill="none" stroke="#0b0bff" stroke-width="1.4"/>
<circle cx="644.47" cy="796" r="2.8" fill="none" stroke="#0b0bff" stroke-width="1.4"/>
<circle cx="646.79" cy="816.3" r="2.8" fill="none" stroke="#0b0bff" stroke-width="1.4"/>
<circle cx="649.12" cy="812.4" r="2.8" fill="none" stroke="#0b0bff" stroke-width="1.4"/>
<circle cx="651.44" cy="807.4" r="2.8" fill="none" stroke="#0b0bff" stroke-width="1.4"/>
<circle cx="653.77" cy="803" r="2.8" fill="none" stroke="#0b0bff" stroke-width="1.4"/>
<circle cx="656.1" cy="810.8" r="2.8" fill="none" stroke="#0b0bff" stroke-width="1.4"/>
<circle cx="658.42" cy="709.3" r="2.8" fill="none" stroke="#0b0bff" stroke-width="1.4"/>
<circle cx="660.75" cy="810.8" r="2.8" fill="none" stroke="#0b0bff" stroke-width="1.4"/>
</g>
<line x1="433" y1="858.8" x2="433" y2="685.3" stroke="#2a2a2a" stroke-width="1.8"/>
<line x1="432.1" y1="857.9" x2="683.4" y2="857.9" stroke="#2a2a2a" stroke-width="1.8"/>
<path d="M433 679.8 L436.7 691.9 L433 688.3 L429.3 691.9Z" fill="#111" stroke="#111" stroke-width="1.1" stroke-linejoin="round"/>
<path d="M688.9 857.9 L676.8 861.6 L680.4 857.9 L676.8 854.2Z" fill="#111" stroke="#111" stroke-width="1.1" stroke-linejoin="round"/>
<line x1="430.2" y1="710.7" x2="433" y2="710.7" stroke="#2a2a2a" stroke-width="1.4"/>
<line x1="430.2" y1="730.5" x2="433" y2="730.5" stroke="#2a2a2a" stroke-width="1.4"/>
<line x1="426" y1="750.3" x2="433" y2="750.3" stroke="#2a2a2a" stroke-width="1.4"/>
<line x1="430.2" y1="770.1" x2="433" y2="770.1" stroke="#2a2a2a" stroke-width="1.4"/>
<line x1="430.2" y1="789.9" x2="433" y2="789.9" stroke="#2a2a2a" stroke-width="1.4"/>
<line x1="430.2" y1="809.7" x2="433" y2="809.7" stroke="#2a2a2a" stroke-width="1.4"/>
<line x1="430.2" y1="829.5" x2="433" y2="829.5" stroke="#2a2a2a" stroke-width="1.4"/>
<line x1="429.6" y1="849.3" x2="433" y2="849.3" stroke="#2a2a2a" stroke-width="1.4"/>
<text class="sa" x="403.82" y="755" font-size="13.3" textLength="15.82" lengthAdjust="spacingAndGlyphs">7.0</text>
<text class="sa" x="403.2" y="854" font-size="13.3" textLength="16.44" lengthAdjust="spacingAndGlyphs">6.5</text>
<line x1="435.12" y1="857.9" x2="435.12" y2="861.5" stroke="#2a2a2a" stroke-width="1.3"/>
<line x1="439.75" y1="857.9" x2="439.75" y2="861.5" stroke="#2a2a2a" stroke-width="1.3"/>
<line x1="444.39" y1="857.9" x2="444.39" y2="861.5" stroke="#2a2a2a" stroke-width="1.3"/>
<line x1="449.03" y1="857.9" x2="449.03" y2="861.5" stroke="#2a2a2a" stroke-width="1.3"/>
<line x1="453.66" y1="857.9" x2="453.66" y2="861.5" stroke="#2a2a2a" stroke-width="1.3"/>
<line x1="458.3" y1="857.9" x2="458.3" y2="861.5" stroke="#2a2a2a" stroke-width="1.3"/>
<line x1="462.93" y1="857.9" x2="462.93" y2="861.5" stroke="#2a2a2a" stroke-width="1.3"/>
<line x1="467.57" y1="857.9" x2="467.57" y2="861.5" stroke="#2a2a2a" stroke-width="1.3"/>
<line x1="472.21" y1="857.9" x2="472.21" y2="861.5" stroke="#2a2a2a" stroke-width="1.3"/>
<line x1="476.84" y1="857.9" x2="476.84" y2="864.4" stroke="#2a2a2a" stroke-width="1.3"/>
<line x1="481.48" y1="857.9" x2="481.48" y2="861.5" stroke="#2a2a2a" stroke-width="1.3"/>
<line x1="486.11" y1="857.9" x2="486.11" y2="861.5" stroke="#2a2a2a" stroke-width="1.3"/>
<line x1="490.75" y1="857.9" x2="490.75" y2="861.5" stroke="#2a2a2a" stroke-width="1.3"/>
<line x1="495.39" y1="857.9" x2="495.39" y2="861.5" stroke="#2a2a2a" stroke-width="1.3"/>
<line x1="500.02" y1="857.9" x2="500.02" y2="861.5" stroke="#2a2a2a" stroke-width="1.3"/>
<line x1="504.66" y1="857.9" x2="504.66" y2="861.5" stroke="#2a2a2a" stroke-width="1.3"/>
<line x1="509.29" y1="857.9" x2="509.29" y2="861.5" stroke="#2a2a2a" stroke-width="1.3"/>
<line x1="513.93" y1="857.9" x2="513.93" y2="861.5" stroke="#2a2a2a" stroke-width="1.3"/>
<line x1="518.57" y1="857.9" x2="518.57" y2="861.5" stroke="#2a2a2a" stroke-width="1.3"/>
<line x1="523.2" y1="857.9" x2="523.2" y2="864.4" stroke="#2a2a2a" stroke-width="1.3"/>
<line x1="527.84" y1="857.9" x2="527.84" y2="861.5" stroke="#2a2a2a" stroke-width="1.3"/>
<line x1="532.47" y1="857.9" x2="532.47" y2="861.5" stroke="#2a2a2a" stroke-width="1.3"/>
<line x1="537.11" y1="857.9" x2="537.11" y2="861.5" stroke="#2a2a2a" stroke-width="1.3"/>
<line x1="541.75" y1="857.9" x2="541.75" y2="861.5" stroke="#2a2a2a" stroke-width="1.3"/>
<line x1="546.38" y1="857.9" x2="546.38" y2="861.5" stroke="#2a2a2a" stroke-width="1.3"/>
<line x1="551.02" y1="857.9" x2="551.02" y2="861.5" stroke="#2a2a2a" stroke-width="1.3"/>
<line x1="555.65" y1="857.9" x2="555.65" y2="861.5" stroke="#2a2a2a" stroke-width="1.3"/>
<line x1="560.29" y1="857.9" x2="560.29" y2="861.5" stroke="#2a2a2a" stroke-width="1.3"/>
<line x1="564.93" y1="857.9" x2="564.93" y2="861.5" stroke="#2a2a2a" stroke-width="1.3"/>
<line x1="569.56" y1="857.9" x2="569.56" y2="864.4" stroke="#2a2a2a" stroke-width="1.3"/>
<line x1="574.2" y1="857.9" x2="574.2" y2="861.5" stroke="#2a2a2a" stroke-width="1.3"/>
<line x1="578.83" y1="857.9" x2="578.83" y2="861.5" stroke="#2a2a2a" stroke-width="1.3"/>
<line x1="583.47" y1="857.9" x2="583.47" y2="861.5" stroke="#2a2a2a" stroke-width="1.3"/>
<line x1="588.11" y1="857.9" x2="588.11" y2="861.5" stroke="#2a2a2a" stroke-width="1.3"/>
<line x1="592.74" y1="857.9" x2="592.74" y2="861.5" stroke="#2a2a2a" stroke-width="1.3"/>
<line x1="597.38" y1="857.9" x2="597.38" y2="861.5" stroke="#2a2a2a" stroke-width="1.3"/>
<line x1="602.01" y1="857.9" x2="602.01" y2="861.5" stroke="#2a2a2a" stroke-width="1.3"/>
<line x1="606.65" y1="857.9" x2="606.65" y2="861.5" stroke="#2a2a2a" stroke-width="1.3"/>
<line x1="611.29" y1="857.9" x2="611.29" y2="861.5" stroke="#2a2a2a" stroke-width="1.3"/>
<line x1="615.92" y1="857.9" x2="615.92" y2="864.4" stroke="#2a2a2a" stroke-width="1.3"/>
<line x1="620.56" y1="857.9" x2="620.56" y2="861.5" stroke="#2a2a2a" stroke-width="1.3"/>
<line x1="625.19" y1="857.9" x2="625.19" y2="861.5" stroke="#2a2a2a" stroke-width="1.3"/>
<line x1="629.83" y1="857.9" x2="629.83" y2="861.5" stroke="#2a2a2a" stroke-width="1.3"/>
<line x1="634.47" y1="857.9" x2="634.47" y2="861.5" stroke="#2a2a2a" stroke-width="1.3"/>
<line x1="639.1" y1="857.9" x2="639.1" y2="861.5" stroke="#2a2a2a" stroke-width="1.3"/>
<line x1="643.74" y1="857.9" x2="643.74" y2="861.5" stroke="#2a2a2a" stroke-width="1.3"/>
<line x1="648.37" y1="857.9" x2="648.37" y2="861.5" stroke="#2a2a2a" stroke-width="1.3"/>
<line x1="653.01" y1="857.9" x2="653.01" y2="861.5" stroke="#2a2a2a" stroke-width="1.3"/>
<line x1="657.65" y1="857.9" x2="657.65" y2="861.5" stroke="#2a2a2a" stroke-width="1.3"/>
<text class="sa" x="461.46" y="877.6" font-size="12.2" textLength="30.76" lengthAdjust="spacingAndGlyphs">19.00</text>
<text class="sa" x="508.16" y="877.6" font-size="12.2" textLength="30.06" lengthAdjust="spacingAndGlyphs">39.00</text>
<text class="sa" x="554.86" y="877.6" font-size="12.2" textLength="30.06" lengthAdjust="spacingAndGlyphs">59.00</text>
<text class="sa" x="601.55" y="877.6" font-size="12.2" textLength="29.36" lengthAdjust="spacingAndGlyphs">79.00</text>
<text class="sa" x="391.58" y="695.8" font-size="12.6" textLength="28.22" lengthAdjust="spacingAndGlyphs">1/μm</text>
<text class="sa" transform="translate(371.1 793.35) rotate(-90)" x="0" y="0" font-size="14" textLength="20.7" lengthAdjust="spacingAndGlyphs">Spc</text>
<text class="se" x="667.2" y="783.9" font-size="12.6" textLength="20.56" lengthAdjust="spacingAndGlyphs">+2σ</text>
<text class="se" x="670.62" y="824.8" font-size="13" textLength="7.26" lengthAdjust="spacingAndGlyphs">μ</text>
<text class="se" x="446.4" y="671.3" font-size="18.2" textLength="134.8" lengthAdjust="spacingAndGlyphs">Feature parameter</text>
<line x1="584.1" y1="667" x2="596.1" y2="667" stroke="#1a1a1a" stroke-width="1.15"/>
<text class="se" x="598" y="671.3" font-size="18.2">S</text>
<text class="se" x="607.72" y="671.3" font-size="12.5" textLength="10.58" lengthAdjust="spacingAndGlyphs">pc</text>
<text class="se" x="54.28" y="255.8" font-size="17.0" textLength="90.18" lengthAdjust="spacingAndGlyphs">Mean value:</text>
<text class="se" x="196.74" y="255.8" font-size="17.0" textLength="45.14" lengthAdjust="spacingAndGlyphs">0.6572</text>
<text class="se" x="271.92" y="255.8" font-size="17.0" textLength="24.96" lengthAdjust="spacingAndGlyphs">μm</text>
<text class="se" x="62.02" y="278" font-size="17.0" textLength="74" lengthAdjust="spacingAndGlyphs">Std value:</text>
<text class="se" x="196.74" y="278" font-size="17.0" textLength="70.44" lengthAdjust="spacingAndGlyphs">0.0004417</text>
<text class="se" x="271.92" y="278" font-size="17.0" textLength="24.96" lengthAdjust="spacingAndGlyphs">μm</text>
<text class="se" x="59.62" y="300.6" font-size="17.0" textLength="79.5" lengthAdjust="spacingAndGlyphs">Min value:</text>
<text class="se" x="196.74" y="300.6" font-size="17.0" textLength="45.1" lengthAdjust="spacingAndGlyphs">0.6556</text>
<text class="se" x="271.92" y="300.6" font-size="17.0" textLength="24.96" lengthAdjust="spacingAndGlyphs">μm</text>
<text class="se" x="58.62" y="322.8" font-size="17.0" textLength="81.5" lengthAdjust="spacingAndGlyphs">Max value:</text>
<text class="se" x="196.74" y="322.8" font-size="17.0" textLength="45.1" lengthAdjust="spacingAndGlyphs">0.6586</text>
<text class="se" x="271.92" y="322.8" font-size="17.0" textLength="24.96" lengthAdjust="spacingAndGlyphs">μm</text>
<text class="se" x="401.12" y="255.8" font-size="17.0" textLength="90.88" lengthAdjust="spacingAndGlyphs">Mean value:</text>
<text class="se" x="539.32" y="255.8" font-size="17.0" textLength="36.4" lengthAdjust="spacingAndGlyphs">4.286</text>
<text class="se" x="598.38" y="255.8" font-size="17.0" textLength="24.96" lengthAdjust="spacingAndGlyphs">μm</text>
<text class="se" x="409.56" y="278" font-size="17.0" textLength="74" lengthAdjust="spacingAndGlyphs">Std value:</text>
<text class="se" x="538.62" y="278" font-size="17.0" textLength="54.26" lengthAdjust="spacingAndGlyphs">0.00489</text>
<text class="se" x="598.38" y="278" font-size="17.0" textLength="24.96" lengthAdjust="spacingAndGlyphs">μm</text>
<text class="se" x="407.16" y="300.6" font-size="17.0" textLength="79.5" lengthAdjust="spacingAndGlyphs">Min value:</text>
<text class="se" x="539.32" y="300.6" font-size="17.0" textLength="36.4" lengthAdjust="spacingAndGlyphs">4.275</text>
<text class="se" x="598.38" y="300.6" font-size="17.0" textLength="24.96" lengthAdjust="spacingAndGlyphs">μm</text>
<text class="se" x="406.16" y="322.8" font-size="17.0" textLength="81.5" lengthAdjust="spacingAndGlyphs">Max value:</text>
<text class="se" x="539.32" y="322.8" font-size="17.0" textLength="36.4" lengthAdjust="spacingAndGlyphs">4.306</text>
<text class="se" x="598.38" y="322.8" font-size="17.0" textLength="24.96" lengthAdjust="spacingAndGlyphs">μm</text>
<text class="se" x="54.28" y="580.8" font-size="17.0" textLength="90.18" lengthAdjust="spacingAndGlyphs">Mean value:</text>
<text class="se" x="196.74" y="580.8" font-size="17.0" textLength="52.6" lengthAdjust="spacingAndGlyphs">0.05281</text>
<text class="se" x="62.02" y="603.3" font-size="17.0" textLength="74" lengthAdjust="spacingAndGlyphs">Std value:</text>
<text class="se" x="196.74" y="603.3" font-size="17.0" textLength="70.68" lengthAdjust="spacingAndGlyphs">0.0001259</text>
<text class="se" x="59.62" y="625.7" font-size="17.0" textLength="79.5" lengthAdjust="spacingAndGlyphs">Min value:</text>
<text class="se" x="196.74" y="625.7" font-size="17.0" textLength="52.98" lengthAdjust="spacingAndGlyphs">0.05253</text>
<text class="se" x="58.62" y="648.1" font-size="17.0" textLength="81.5" lengthAdjust="spacingAndGlyphs">Max value:</text>
<text class="se" x="196.74" y="648.1" font-size="17.0" textLength="52.6" lengthAdjust="spacingAndGlyphs">0.05301</text>
<text class="se" x="401.12" y="580.8" font-size="17.0" textLength="90.88" lengthAdjust="spacingAndGlyphs">Mean value:</text>
<text class="se" x="538.62" y="580.8" font-size="17.0" textLength="37.68" lengthAdjust="spacingAndGlyphs">25.52</text>
<text class="se" x="599.08" y="580.8" font-size="17.0" textLength="13.64" lengthAdjust="spacingAndGlyphs">%</text>
<text class="se" x="409.56" y="603.3" font-size="17.0" textLength="74" lengthAdjust="spacingAndGlyphs">Std value:</text>
<text class="se" x="538.62" y="603.3" font-size="17.0" textLength="54.26" lengthAdjust="spacingAndGlyphs">0.08458</text>
<text class="se" x="599.08" y="603.3" font-size="17.0" textLength="13.64" lengthAdjust="spacingAndGlyphs">%</text>
<text class="se" x="407.16" y="625.7" font-size="17.0" textLength="79.5" lengthAdjust="spacingAndGlyphs">Min value:</text>
<text class="se" x="538.62" y="625.7" font-size="17.0" textLength="37.68" lengthAdjust="spacingAndGlyphs">25.38</text>
<text class="se" x="599.08" y="625.7" font-size="17.0" textLength="13.64" lengthAdjust="spacingAndGlyphs">%</text>
<text class="se" x="406.16" y="648.1" font-size="17.0" textLength="81.5" lengthAdjust="spacingAndGlyphs">Max value:</text>
<text class="se" x="538.62" y="648.1" font-size="17.0" textLength="37.68" lengthAdjust="spacingAndGlyphs">25.72</text>
<text class="se" x="599.08" y="648.1" font-size="17.0" textLength="13.64" lengthAdjust="spacingAndGlyphs">%</text>
<text class="se" x="54.28" y="906.5" font-size="17.0" textLength="90.18" lengthAdjust="spacingAndGlyphs">Mean value:</text>
<text class="se" x="196.74" y="906.5" font-size="17.0" textLength="52.98" lengthAdjust="spacingAndGlyphs">0.04904</text>
<text class="se" x="271.92" y="906.5" font-size="17.0" textLength="43.88" lengthAdjust="spacingAndGlyphs">1/μm²</text>
<text class="se" x="62.02" y="928.9" font-size="17.0" textLength="74" lengthAdjust="spacingAndGlyphs">Std value:</text>
<text class="se" x="196.74" y="928.9" font-size="17.0" textLength="62.06" lengthAdjust="spacingAndGlyphs">0.002267</text>
<text class="se" x="271.92" y="928.9" font-size="17.0" textLength="43.88" lengthAdjust="spacingAndGlyphs">1/μm²</text>
<text class="se" x="59.62" y="951.3" font-size="17.0" textLength="79.5" lengthAdjust="spacingAndGlyphs">Min value:</text>
<text class="se" x="196.74" y="951.3" font-size="17.0" textLength="52.98" lengthAdjust="spacingAndGlyphs">0.03887</text>
<text class="se" x="271.92" y="951.3" font-size="17.0" textLength="43.88" lengthAdjust="spacingAndGlyphs">1/μm²</text>
<text class="se" x="58.62" y="973.7" font-size="17.0" textLength="81.5" lengthAdjust="spacingAndGlyphs">Max value:</text>
<text class="se" x="196.74" y="973.7" font-size="17.0" textLength="52.98" lengthAdjust="spacingAndGlyphs">0.05346</text>
<text class="se" x="271.92" y="973.7" font-size="17.0" textLength="43.88" lengthAdjust="spacingAndGlyphs">1/μm²</text>
<text class="se" x="401.12" y="906.5" font-size="17.0" textLength="90.88" lengthAdjust="spacingAndGlyphs">Mean value:</text>
<text class="se" x="538.62" y="906.5" font-size="17.0" textLength="37.1" lengthAdjust="spacingAndGlyphs">6.659</text>
<text class="se" x="598.38" y="906.5" font-size="17.0" textLength="38.46" lengthAdjust="spacingAndGlyphs">1/μm</text>
<text class="se" x="409.56" y="928.9" font-size="17.0" textLength="74" lengthAdjust="spacingAndGlyphs">Std value:</text>
<text class="se" x="538.62" y="928.9" font-size="17.0" textLength="45.72" lengthAdjust="spacingAndGlyphs">0.1028</text>
<text class="se" x="598.38" y="928.9" font-size="17.0" textLength="38.46" lengthAdjust="spacingAndGlyphs">1/μm</text>
<text class="se" x="407.16" y="951.3" font-size="17.0" textLength="79.5" lengthAdjust="spacingAndGlyphs">Min value:</text>
<text class="se" x="538.62" y="951.3" font-size="17.0" textLength="37.1" lengthAdjust="spacingAndGlyphs">6.456</text>
<text class="se" x="598.38" y="951.3" font-size="17.0" textLength="38.46" lengthAdjust="spacingAndGlyphs">1/μm</text>
<text class="se" x="406.16" y="973.7" font-size="17.0" textLength="81.5" lengthAdjust="spacingAndGlyphs">Max value:</text>
<text class="se" x="538.62" y="973.7" font-size="17.0" textLength="37.42" lengthAdjust="spacingAndGlyphs">7.211</text>
<text class="se" x="598.38" y="973.7" font-size="17.0" textLength="38.46" lengthAdjust="spacingAndGlyphs">1/μm</text>
<path d="M597.8 93.6 L597.8 99.6 L599.2 98.3 L600.4 100.6 L601.2 100.2 L600.1 97.9 L601.9 97.8 Z" fill="#fff" stroke="#9a9a9a" stroke-width="0.6"/>
</svg>
</body></html>
